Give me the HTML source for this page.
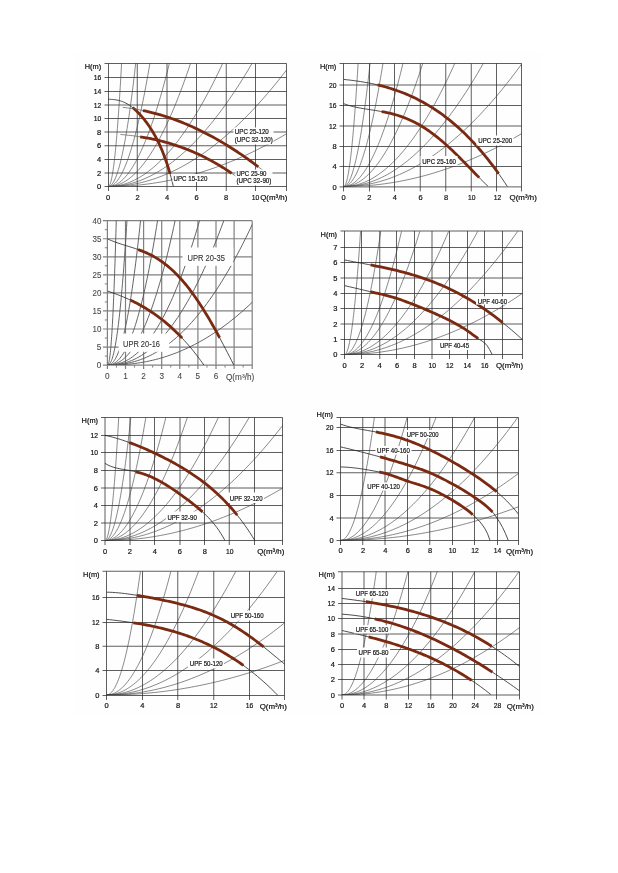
<!DOCTYPE html>
<html><head><meta charset="utf-8"><style>
html,body{margin:0;padding:0;background:#fff;}
svg{display:block;font-family:"Liberation Sans", sans-serif;will-change:transform;}
</style></head><body>
<svg width="618" height="873" viewBox="0 0 618 873">
<rect width="618" height="873" fill="#fff"/>
<rect x="75" y="52" width="466" height="663" fill="#fefefe"/>
<line x1="104.5" y1="173" x2="286.5" y2="173" stroke="#2a2a2a" stroke-width="0.75"/>
<line x1="104.5" y1="159.5" x2="286.5" y2="159.5" stroke="#2a2a2a" stroke-width="0.75"/>
<line x1="104.5" y1="145.75" x2="286.5" y2="145.75" stroke="#2a2a2a" stroke-width="0.75"/>
<line x1="104.5" y1="132" x2="286.5" y2="132" stroke="#2a2a2a" stroke-width="0.75"/>
<line x1="104.5" y1="118.5" x2="286.5" y2="118.5" stroke="#2a2a2a" stroke-width="0.75"/>
<line x1="104.5" y1="105" x2="286.5" y2="105" stroke="#2a2a2a" stroke-width="0.75"/>
<line x1="104.5" y1="91.5" x2="286.5" y2="91.5" stroke="#2a2a2a" stroke-width="0.75"/>
<line x1="104.5" y1="77.5" x2="286.5" y2="77.5" stroke="#2a2a2a" stroke-width="0.75"/>
<line x1="137.25" y1="63.5" x2="137.25" y2="191" stroke="#2a2a2a" stroke-width="0.75"/>
<line x1="167" y1="63.5" x2="167" y2="191" stroke="#2a2a2a" stroke-width="0.75"/>
<line x1="196.5" y1="63.5" x2="196.5" y2="191" stroke="#2a2a2a" stroke-width="0.75"/>
<line x1="226.25" y1="63.5" x2="226.25" y2="191" stroke="#2a2a2a" stroke-width="0.75"/>
<line x1="255.5" y1="63.5" x2="255.5" y2="191" stroke="#2a2a2a" stroke-width="0.75"/>
<line x1="104.5" y1="63.5" x2="286.5" y2="63.5" stroke="#2a2a2a" stroke-width="0.75"/>
<line x1="104.5" y1="186.5" x2="286.5" y2="186.5" stroke="#2a2a2a" stroke-width="0.75"/>
<line x1="108.5" y1="63.5" x2="108.5" y2="191" stroke="#2a2a2a" stroke-width="0.75"/>
<line x1="286.5" y1="63.5" x2="286.5" y2="191" stroke="#2a2a2a" stroke-width="0.75"/>
<clipPath id="c1"><rect x="108.2" y="63.18" width="177.94" height="123.42"/></clipPath>
<g clip-path="url(#c1)"><path d="M108.2,186.6 L108.48,186.55 L108.76,186.39 L109.04,186.12 L109.31,185.74 L109.59,185.26 L109.87,184.67 L110.15,183.98 L110.43,183.18 L110.71,182.27 L110.99,181.25 L111.26,180.13 L111.54,178.9 L111.82,177.56 L112.1,176.12 L112.38,174.57 L112.66,172.91 L112.94,171.14 L113.22,169.27 L113.49,167.29 L113.77,165.21 L114.05,163.02 L114.33,160.72 L114.61,158.31 L114.89,155.8 L115.17,153.17 L115.44,150.45 L115.72,147.61 L116,144.67 L116.28,141.62 L116.56,138.47 L116.84,135.21 L117.12,131.84 L117.39,128.36 L117.67,124.78 L117.95,121.09 L118.23,117.29 L118.51,113.39 L118.79,109.37 L119.07,105.26 L119.35,101.03 L119.62,96.7 L119.9,92.26 L120.18,87.71 L120.46,83.06 L120.74,78.3 L121.02,73.44 L121.3,68.46 L121.57,63.38 L121.85,58.19" fill="none" stroke="#3a3a3a" stroke-width="0.6"/><path d="M108.2,186.6 L108.77,186.55 L109.35,186.39 L109.92,186.12 L110.49,185.74 L111.06,185.26 L111.64,184.67 L112.21,183.98 L112.78,183.18 L113.36,182.27 L113.93,181.25 L114.5,180.13 L115.07,178.9 L115.65,177.56 L116.22,176.12 L116.79,174.57 L117.37,172.91 L117.94,171.14 L118.51,169.27 L119.08,167.29 L119.66,165.21 L120.23,163.02 L120.8,160.72 L121.38,158.31 L121.95,155.8 L122.52,153.17 L123.09,150.45 L123.67,147.61 L124.24,144.67 L124.81,141.62 L125.39,138.47 L125.96,135.21 L126.53,131.84 L127.1,128.36 L127.68,124.78 L128.25,121.09 L128.82,117.29 L129.4,113.39 L129.97,109.37 L130.54,105.26 L131.11,101.03 L131.69,96.7 L132.26,92.26 L132.83,87.71 L133.41,83.06 L133.98,78.3 L134.55,73.44 L135.12,68.46 L135.7,63.38 L136.27,58.19" fill="none" stroke="#3a3a3a" stroke-width="0.6"/><path d="M108.2,186.6 L109.07,186.55 L109.94,186.39 L110.81,186.12 L111.68,185.74 L112.54,185.26 L113.41,184.67 L114.28,183.98 L115.15,183.18 L116.02,182.27 L116.89,181.25 L117.76,180.13 L118.63,178.9 L119.5,177.56 L120.37,176.12 L121.23,174.57 L122.1,172.91 L122.97,171.14 L123.84,169.27 L124.71,167.29 L125.58,165.21 L126.45,163.02 L127.32,160.72 L128.19,158.31 L129.05,155.8 L129.92,153.17 L130.79,150.45 L131.66,147.61 L132.53,144.67 L133.4,141.62 L134.27,138.47 L135.14,135.21 L136.01,131.84 L136.88,128.36 L137.74,124.78 L138.61,121.09 L139.48,117.29 L140.35,113.39 L141.22,109.37 L142.09,105.26 L142.96,101.03 L143.83,96.7 L144.7,92.26 L145.56,87.71 L146.43,83.06 L147.3,78.3 L148.17,73.44 L149.04,68.46 L149.91,63.38 L150.78,58.19" fill="none" stroke="#3a3a3a" stroke-width="0.6"/><path d="M108.2,186.6 L109.47,186.55 L110.75,186.39 L112.02,186.12 L113.3,185.74 L114.57,185.26 L115.85,184.67 L117.12,183.98 L118.4,183.18 L119.67,182.27 L120.95,181.25 L122.22,180.13 L123.5,178.9 L124.77,177.56 L126.05,176.12 L127.32,174.57 L128.6,172.91 L129.87,171.14 L131.15,169.27 L132.42,167.29 L133.7,165.21 L134.97,163.02 L136.25,160.72 L137.52,158.31 L138.8,155.8 L140.07,153.17 L141.35,150.45 L142.62,147.61 L143.9,144.67 L145.17,141.62 L146.44,138.47 L147.72,135.21 L148.99,131.84 L150.27,128.36 L151.54,124.78 L152.82,121.09 L154.09,117.29 L155.37,113.39 L156.64,109.37 L157.92,105.26 L159.19,101.03 L160.47,96.7 L161.74,92.26 L163.02,87.71 L164.29,83.06 L165.57,78.3 L166.84,73.44 L168.12,68.46 L169.39,63.38 L170.67,58.19" fill="none" stroke="#3a3a3a" stroke-width="0.6"/><path d="M108.2,186.6 L109.92,186.55 L111.63,186.39 L113.35,186.12 L115.06,185.74 L116.78,185.26 L118.49,184.67 L120.21,183.98 L121.92,183.18 L123.64,182.27 L125.35,181.25 L127.07,180.13 L128.78,178.9 L130.5,177.56 L132.21,176.12 L133.93,174.57 L135.64,172.91 L137.36,171.14 L139.07,169.27 L140.79,167.29 L142.51,165.21 L144.22,163.02 L145.94,160.72 L147.65,158.31 L149.37,155.8 L151.08,153.17 L152.8,150.45 L154.51,147.61 L156.23,144.67 L157.94,141.62 L159.66,138.47 L161.37,135.21 L163.09,131.84 L164.8,128.36 L166.52,124.78 L168.23,121.09 L169.95,117.29 L171.66,113.39 L173.38,109.37 L175.1,105.26 L176.81,101.03 L178.53,96.7 L180.24,92.26 L181.96,87.71 L183.67,83.06 L185.39,78.3 L187.1,73.44 L188.82,68.46 L190.53,63.38 L192.25,58.19" fill="none" stroke="#3a3a3a" stroke-width="0.6"/><path d="M108.2,186.6 L110.58,186.55 L112.97,186.39 L115.35,186.12 L117.74,185.74 L120.12,185.26 L122.51,184.67 L124.89,183.98 L127.28,183.18 L129.66,182.27 L132.05,181.25 L134.43,180.13 L136.82,178.9 L139.2,177.56 L141.59,176.12 L143.97,174.57 L146.36,172.91 L148.74,171.14 L151.13,169.27 L153.51,167.29 L155.9,165.21 L158.28,163.02 L160.67,160.72 L163.05,158.31 L165.44,155.8 L167.82,153.17 L170.21,150.45 L172.59,147.61 L174.98,144.67 L177.36,141.62 L179.75,138.47 L182.13,135.21 L184.52,131.84 L186.9,128.36 L189.29,124.78 L191.67,121.09 L194.06,117.29 L196.44,113.39 L198.83,109.37 L201.21,105.26 L203.6,101.03 L205.98,96.7 L208.37,92.26 L210.75,87.71 L213.14,83.06 L215.52,78.3 L217.91,73.44 L220.29,68.46 L222.68,63.38 L225.06,58.19" fill="none" stroke="#3a3a3a" stroke-width="0.6"/><path d="M108.2,186.6 L111.2,186.55 L114.19,186.39 L117.19,186.12 L120.19,185.74 L123.18,185.26 L126.18,184.67 L129.18,183.98 L132.17,183.18 L135.17,182.27 L138.17,181.25 L141.17,180.13 L144.16,178.9 L147.16,177.56 L150.16,176.12 L153.15,174.57 L156.15,172.91 L159.15,171.14 L162.14,169.27 L165.14,167.29 L168.14,165.21 L171.13,163.02 L174.13,160.72 L177.13,158.31 L180.12,155.8 L183.12,153.17 L186.12,150.45 L189.12,147.61 L192.11,144.67 L195.11,141.62 L198.11,138.47 L201.1,135.21 L204.1,131.84 L207.1,128.36 L210.09,124.78 L213.09,121.09 L216.09,117.29 L219.08,113.39 L222.08,109.37 L225.08,105.26 L228.07,101.03 L231.07,96.7 L234.07,92.26 L237.07,87.71 L240.06,83.06 L243.06,78.3 L246.06,73.44 L249.05,68.46 L252.05,63.38 L255.05,58.19" fill="none" stroke="#3a3a3a" stroke-width="0.6"/><path d="M108.2,186.6 L111.9,186.55 L115.61,186.4 L119.31,186.15 L123.02,185.8 L126.72,185.34 L130.42,184.79 L134.13,184.13 L137.83,183.38 L141.54,182.53 L145.24,181.57 L148.94,180.51 L152.65,179.36 L156.35,178.1 L160.06,176.74 L163.76,175.28 L167.46,173.72 L171.17,172.06 L174.87,170.3 L178.58,168.44 L182.28,166.48 L185.98,164.41 L189.69,162.25 L193.39,159.99 L197.1,157.62 L200.8,155.16 L204.5,152.59 L208.21,149.93 L211.91,147.16 L215.62,144.29 L219.32,141.32 L223.02,138.25 L226.73,135.08 L230.43,131.81 L234.14,128.44 L237.84,124.97 L241.54,121.4 L245.25,117.73 L248.95,113.96 L252.66,110.08 L256.36,106.11 L260.06,102.03 L263.77,97.86 L267.47,93.58 L271.18,89.2 L274.88,84.73 L278.59,80.15 L282.29,75.47 L285.99,70.69 L289.7,65.81" fill="none" stroke="#3a3a3a" stroke-width="0.6"/><path d="M108.2,186.6 L111.9,186.58 L115.61,186.51 L119.31,186.39 L123.02,186.24 L126.72,186.03 L130.42,185.78 L134.13,185.48 L137.83,185.14 L141.54,184.75 L145.24,184.32 L148.94,183.84 L152.65,183.32 L156.35,182.75 L160.06,182.13 L163.76,181.47 L167.46,180.77 L171.17,180.01 L174.87,179.22 L178.58,178.37 L182.28,177.48 L185.98,176.55 L189.69,175.57 L193.39,174.54 L197.1,173.47 L200.8,172.36 L204.5,171.19 L208.21,169.99 L211.91,168.73 L215.62,167.43 L219.32,166.09 L223.02,164.7 L226.73,163.26 L230.43,161.78 L234.14,160.26 L237.84,158.68 L241.54,157.07 L245.25,155.4 L248.95,153.69 L252.66,151.94 L256.36,150.14 L260.06,148.29 L263.77,146.4 L267.47,144.46 L271.18,142.48 L274.88,140.45 L278.59,138.38 L282.29,136.26 L285.99,134.09 L289.7,131.88" fill="none" stroke="#3a3a3a" stroke-width="0.6"/></g>
<g clip-path="url(#c1)"><path d="M108.2,99.2 L109.3,99.26 L110.41,99.31 L111.51,99.38 L112.61,99.46 L113.72,99.57 L114.82,99.7 L115.92,99.86 L117.03,100.06 L118.13,100.29 L119.24,100.56 L120.34,100.88 L121.44,101.24 L122.55,101.65 L123.65,102.1 L124.75,102.6 L125.86,103.15 L126.96,103.75 L128.06,104.39 L129.17,105.09 L130.27,105.84 L131.37,106.64 L132.48,107.48 L133.58,108.38 L134.68,109.32 L135.79,110.31 L136.89,111.35 L137.99,112.44 L139.1,113.57 L140.2,114.75 L141.31,115.98 L142.41,117.26 L143.51,118.59 L144.62,119.97 L145.72,121.4 L146.82,122.88 L147.93,124.42 L149.03,126.01 L150.13,127.66 L151.24,129.38 L152.34,131.16 L153.44,133 L154.55,134.93 L155.65,136.93 L156.75,139.01 L157.86,141.19 L158.96,143.46 L160.06,145.84 L161.17,148.33 L162.27,150.95 L163.38,153.69 L164.48,156.58 L165.58,159.62 L166.69,162.82 L167.79,166.21 L168.89,169.78 L170,173.57 L171.1,177.57 L172.2,181.82 L173.31,186.32" fill="none" stroke="#222" stroke-width="0.8"/><path d="M132.5,107.5 L133.14,108.01 L133.78,108.54 L134.41,109.08 L135.05,109.64 L135.69,110.22 L136.32,110.81 L136.96,111.42 L137.6,112.04 L138.23,112.68 L138.87,113.33 L139.51,114 L140.14,114.69 L140.78,115.39 L141.42,116.11 L142.05,116.85 L142.69,117.6 L143.33,118.37 L143.96,119.15 L144.6,119.95 L145.24,120.77 L145.87,121.6 L146.51,122.46 L147.15,123.33 L147.78,124.22 L148.42,125.12 L149.06,126.05 L149.69,127 L150.33,127.96 L150.97,128.95 L151.6,129.96 L152.24,130.99 L152.88,132.05 L153.51,133.12 L154.15,134.23 L154.79,135.35 L155.42,136.51 L156.06,137.69 L156.7,138.9 L157.33,140.14 L157.97,141.42 L158.61,142.72 L159.24,144.06 L159.88,145.44 L160.52,146.85 L161.15,148.3 L161.79,149.79 L162.43,151.32 L163.06,152.9 L163.7,154.53 L164.34,156.2 L164.97,157.92 L165.61,159.7 L166.25,161.53 L166.88,163.41 L167.52,165.36 L168.16,167.37 L168.79,169.45 L169.43,171.6 L170.07,173.81" fill="none" stroke="#7b2a12" stroke-width="2.8" stroke-linecap="butt"/><path d="M122.78,107.34 L125.18,107.61 L127.58,107.91 L129.98,108.24 L132.38,108.59 L134.78,108.98 L137.18,109.39 L139.58,109.83 L141.98,110.31 L144.38,110.81 L146.78,111.34 L149.17,111.9 L151.57,112.48 L153.97,113.1 L156.37,113.74 L158.77,114.42 L161.17,115.12 L163.57,115.85 L165.97,116.61 L168.37,117.39 L170.77,118.21 L173.17,119.05 L175.57,119.92 L177.97,120.82 L180.36,121.75 L182.76,122.71 L185.16,123.69 L187.56,124.7 L189.96,125.74 L192.36,126.81 L194.76,127.9 L197.16,129.02 L199.56,130.17 L201.96,131.35 L204.36,132.56 L206.76,133.79 L209.16,135.05 L211.55,136.33 L213.95,137.65 L216.35,138.99 L218.75,140.36 L221.15,141.76 L223.55,143.18 L225.95,144.63 L228.35,146.1 L230.75,147.61 L233.15,149.14 L235.55,150.7 L237.95,152.28 L240.35,153.89 L242.74,155.53 L245.14,157.19 L247.54,158.88 L249.94,160.6 L252.34,162.34 L254.74,164.11 L257.14,165.91 L259.54,167.73 L261.94,169.58 L264.34,171.45" fill="none" stroke="#666" stroke-width="0.8"/><path d="M142.96,110.51 L144.92,110.93 L146.87,111.36 L148.83,111.81 L150.78,112.29 L152.74,112.78 L154.69,113.29 L156.65,113.82 L158.6,114.37 L160.56,114.94 L162.51,115.52 L164.47,116.13 L166.42,116.75 L168.38,117.4 L170.33,118.06 L172.29,118.74 L174.24,119.44 L176.2,120.16 L178.15,120.89 L180.1,121.65 L182.06,122.42 L184.01,123.22 L185.97,124.03 L187.92,124.86 L189.88,125.7 L191.83,126.57 L193.79,127.46 L195.74,128.36 L197.7,129.28 L199.65,130.22 L201.61,131.18 L203.56,132.15 L205.52,133.15 L207.47,134.16 L209.43,135.19 L211.38,136.24 L213.34,137.31 L215.29,138.39 L217.25,139.5 L219.2,140.62 L221.16,141.76 L223.11,142.92 L225.07,144.09 L227.02,145.28 L228.98,146.49 L230.93,147.72 L232.89,148.97 L234.84,150.23 L236.8,151.52 L238.75,152.82 L240.71,154.13 L242.66,155.47 L244.61,156.82 L246.57,158.19 L248.52,159.58 L250.48,160.99 L252.43,162.41 L254.39,163.85 L256.34,165.31 L258.3,166.78" fill="none" stroke="#7b2a12" stroke-width="2.8" stroke-linecap="butt"/><path d="M120.43,134.47 L122.39,134.63 L124.36,134.81 L126.32,135 L128.29,135.21 L130.25,135.43 L132.21,135.66 L134.18,135.92 L136.14,136.18 L138.11,136.47 L140.07,136.77 L142.04,137.08 L144,137.42 L145.97,137.77 L147.93,138.13 L149.9,138.52 L151.86,138.92 L153.83,139.34 L155.79,139.78 L157.76,140.24 L159.72,140.71 L161.69,141.21 L163.65,141.72 L165.62,142.26 L167.58,142.81 L169.55,143.38 L171.51,143.98 L173.48,144.59 L175.44,145.23 L177.41,145.88 L179.37,146.56 L181.34,147.26 L183.3,147.98 L185.27,148.72 L187.23,149.49 L189.2,150.28 L191.16,151.09 L193.12,151.92 L195.09,152.78 L197.05,153.66 L199.02,154.56 L200.98,155.49 L202.95,156.44 L204.91,157.42 L206.88,158.42 L208.84,159.45 L210.81,160.5 L212.77,161.58 L214.74,162.69 L216.7,163.82 L218.67,164.97 L220.63,166.16 L222.6,167.37 L224.56,168.61 L226.53,169.87 L228.49,171.16 L230.46,172.48 L232.42,173.83 L234.39,175.21 L236.35,176.61" fill="none" stroke="#666" stroke-width="0.8"/><path d="M140.16,136.78 L141.71,137.03 L143.26,137.29 L144.82,137.56 L146.37,137.84 L147.92,138.13 L149.47,138.43 L151.02,138.74 L152.57,139.07 L154.12,139.4 L155.67,139.75 L157.22,140.11 L158.77,140.48 L160.32,140.86 L161.87,141.25 L163.42,141.66 L164.97,142.08 L166.52,142.51 L168.07,142.95 L169.62,143.4 L171.17,143.87 L172.72,144.35 L174.27,144.85 L175.82,145.35 L177.37,145.87 L178.92,146.4 L180.47,146.95 L182.02,147.51 L183.58,148.08 L185.13,148.67 L186.68,149.27 L188.23,149.88 L189.78,150.51 L191.33,151.16 L192.88,151.81 L194.43,152.49 L195.98,153.17 L197.53,153.87 L199.08,154.59 L200.63,155.32 L202.18,156.07 L203.73,156.83 L205.28,157.61 L206.83,158.4 L208.38,159.21 L209.93,160.03 L211.48,160.87 L213.03,161.73 L214.58,162.6 L216.13,163.49 L217.68,164.39 L219.23,165.31 L220.78,166.25 L222.34,167.2 L223.89,168.18 L225.44,169.16 L226.99,170.17 L228.54,171.19 L230.09,172.23 L231.64,173.29" fill="none" stroke="#7b2a12" stroke-width="2.8" stroke-linecap="butt"/></g>
<rect x="233.5" y="127.5" width="40" height="17" fill="#fff"/>
<text x="234.8" y="134.3" font-size="7.2" textLength="34" lengthAdjust="spacingAndGlyphs" fill="#111" stroke="#111" stroke-width="0.2">UPC 25-120</text>
<text x="234.8" y="142.0" font-size="7.2" textLength="38" lengthAdjust="spacingAndGlyphs" fill="#111" stroke="#111" stroke-width="0.2">(UPC 32-120)</text>
<rect x="235.5" y="169.5" width="37" height="16" fill="#fff"/>
<text x="236.4" y="176.1" font-size="7.2" textLength="30" lengthAdjust="spacingAndGlyphs" fill="#111" stroke="#111" stroke-width="0.2">UPC 25-90</text>
<text x="236.4" y="183.2" font-size="7.2" textLength="35" lengthAdjust="spacingAndGlyphs" fill="#111" stroke="#111" stroke-width="0.2">(UPC 32-90)</text>
<rect x="172.5" y="174" width="36" height="8" fill="#fff"/>
<text x="173.6" y="180.6" font-size="7.2" textLength="33.7" lengthAdjust="spacingAndGlyphs" fill="#111" stroke="#111" stroke-width="0.2">UPC 15-120</text>
<text x="101.2" y="189.16" font-size="7.5" text-anchor="end" fill="#111" stroke="#111" stroke-width="0.2">0</text>
<text x="101.2" y="175.66" font-size="7.5" text-anchor="end" fill="#111" stroke="#111" stroke-width="0.2">2</text>
<text x="101.2" y="162.16" font-size="7.5" text-anchor="end" fill="#111" stroke="#111" stroke-width="0.2">4</text>
<text x="101.2" y="148.41" font-size="7.5" text-anchor="end" fill="#111" stroke="#111" stroke-width="0.2">6</text>
<text x="101.2" y="134.66" font-size="7.5" text-anchor="end" fill="#111" stroke="#111" stroke-width="0.2">8</text>
<text x="101.2" y="121.16" font-size="7.5" textLength="7.51" lengthAdjust="spacingAndGlyphs" text-anchor="end" fill="#111" stroke="#111" stroke-width="0.2">10</text>
<text x="101.2" y="107.66" font-size="7.5" textLength="7.51" lengthAdjust="spacingAndGlyphs" text-anchor="end" fill="#111" stroke="#111" stroke-width="0.2">12</text>
<text x="101.2" y="94.16" font-size="7.5" textLength="7.51" lengthAdjust="spacingAndGlyphs" text-anchor="end" fill="#111" stroke="#111" stroke-width="0.2">14</text>
<text x="101.2" y="80.16" font-size="7.5" textLength="7.51" lengthAdjust="spacingAndGlyphs" text-anchor="end" fill="#111" stroke="#111" stroke-width="0.2">16</text>
<text x="108.2" y="199.6" font-size="7.5" text-anchor="middle" fill="#111" stroke="#111" stroke-width="0.2">0</text>
<text x="137.66" y="199.6" font-size="7.5" text-anchor="middle" fill="#111" stroke="#111" stroke-width="0.2">2</text>
<text x="167.12" y="199.6" font-size="7.5" text-anchor="middle" fill="#111" stroke="#111" stroke-width="0.2">4</text>
<text x="196.58" y="199.6" font-size="7.5" text-anchor="middle" fill="#111" stroke="#111" stroke-width="0.2">6</text>
<text x="226.04" y="199.6" font-size="7.5" text-anchor="middle" fill="#111" stroke="#111" stroke-width="0.2">8</text>
<text x="255.5" y="199.6" font-size="7.5" textLength="7.51" lengthAdjust="spacingAndGlyphs" text-anchor="middle" fill="#111" stroke="#111" stroke-width="0.2">10</text>
<text x="101.2" y="68.8" font-size="7.4" text-anchor="end" fill="#111" stroke="#111" stroke-width="0.2">H(m)</text>
<text x="260.2" y="199.6" font-size="7.9" fill="#111" stroke="#111" stroke-width="0.2">Q(m³/h)</text>
<line x1="339.5" y1="166.5" x2="521.5" y2="166.5" stroke="#2a2a2a" stroke-width="0.75"/>
<line x1="339.5" y1="146.5" x2="521.5" y2="146.5" stroke="#2a2a2a" stroke-width="0.75"/>
<line x1="339.5" y1="126" x2="521.5" y2="126" stroke="#2a2a2a" stroke-width="0.75"/>
<line x1="339.5" y1="105.5" x2="521.5" y2="105.5" stroke="#2a2a2a" stroke-width="0.75"/>
<line x1="339.5" y1="85" x2="521.5" y2="85" stroke="#2a2a2a" stroke-width="0.75"/>
<line x1="369.5" y1="63.5" x2="369.5" y2="191.4" stroke="#2a2a2a" stroke-width="0.75"/>
<line x1="394.5" y1="63.5" x2="394.5" y2="191.4" stroke="#2a2a2a" stroke-width="0.75"/>
<line x1="420.25" y1="63.5" x2="420.25" y2="191.4" stroke="#2a2a2a" stroke-width="0.75"/>
<line x1="445.75" y1="63.5" x2="445.75" y2="191.4" stroke="#2a2a2a" stroke-width="0.75"/>
<line x1="471.25" y1="63.5" x2="471.25" y2="191.4" stroke="#2a2a2a" stroke-width="0.75"/>
<line x1="496.5" y1="63.5" x2="496.5" y2="191.4" stroke="#2a2a2a" stroke-width="0.75"/>
<line x1="339.5" y1="63.5" x2="521.5" y2="63.5" stroke="#2a2a2a" stroke-width="0.75"/>
<line x1="339.5" y1="186.9" x2="521.5" y2="186.9" stroke="#2a2a2a" stroke-width="0.75"/>
<line x1="343.5" y1="63.5" x2="343.5" y2="191.4" stroke="#2a2a2a" stroke-width="0.75"/>
<line x1="521.5" y1="63.5" x2="521.5" y2="191.4" stroke="#2a2a2a" stroke-width="0.75"/>
<clipPath id="c2"><rect x="343.6" y="63.29" width="178.2" height="123.31"/></clipPath>
<g clip-path="url(#c2)"><path d="M343.6,186.6 L343.9,186.55 L344.2,186.39 L344.51,186.12 L344.81,185.75 L345.11,185.26 L345.41,184.68 L345.71,183.98 L346.02,183.18 L346.32,182.27 L346.62,181.26 L346.92,180.13 L347.22,178.91 L347.52,177.57 L347.83,176.13 L348.13,174.58 L348.43,172.92 L348.73,171.16 L349.03,169.29 L349.34,167.31 L349.64,165.23 L349.94,163.04 L350.24,160.74 L350.54,158.33 L350.85,155.82 L351.15,153.2 L351.45,150.48 L351.75,147.65 L352.05,144.71 L352.35,141.66 L352.66,138.51 L352.96,135.25 L353.26,131.88 L353.56,128.41 L353.86,124.83 L354.17,121.14 L354.47,117.35 L354.77,113.45 L355.07,109.44 L355.37,105.33 L355.68,101.11 L355.98,96.78 L356.28,92.34 L356.58,87.8 L356.88,83.15 L357.18,78.4 L357.49,73.54 L357.79,68.57 L358.09,63.49 L358.39,58.31" fill="none" stroke="#3a3a3a" stroke-width="0.6"/><path d="M343.6,186.6 L344.15,186.55 L344.7,186.39 L345.25,186.12 L345.8,185.75 L346.35,185.26 L346.9,184.68 L347.45,183.98 L348,183.18 L348.55,182.27 L349.1,181.26 L349.65,180.13 L350.21,178.91 L350.76,177.57 L351.31,176.13 L351.86,174.58 L352.41,172.92 L352.96,171.16 L353.51,169.29 L354.06,167.31 L354.61,165.23 L355.16,163.04 L355.71,160.74 L356.26,158.33 L356.81,155.82 L357.36,153.2 L357.91,150.48 L358.46,147.65 L359.01,144.71 L359.56,141.66 L360.11,138.51 L360.66,135.25 L361.21,131.88 L361.76,128.41 L362.31,124.83 L362.87,121.14 L363.42,117.35 L363.97,113.45 L364.52,109.44 L365.07,105.33 L365.62,101.11 L366.17,96.78 L366.72,92.34 L367.27,87.8 L367.82,83.15 L368.37,78.4 L368.92,73.54 L369.47,68.57 L370.02,63.49 L370.57,58.31" fill="none" stroke="#3a3a3a" stroke-width="0.6"/><path d="M343.6,186.6 L344.42,186.55 L345.24,186.39 L346.06,186.12 L346.88,185.75 L347.7,185.26 L348.52,184.68 L349.34,183.98 L350.16,183.18 L350.98,182.27 L351.8,181.26 L352.62,180.13 L353.44,178.91 L354.26,177.57 L355.08,176.13 L355.9,174.58 L356.72,172.92 L357.54,171.16 L358.36,169.29 L359.18,167.31 L360,165.23 L360.81,163.04 L361.63,160.74 L362.45,158.33 L363.27,155.82 L364.09,153.2 L364.91,150.48 L365.73,147.65 L366.55,144.71 L367.37,141.66 L368.19,138.51 L369.01,135.25 L369.83,131.88 L370.65,128.41 L371.47,124.83 L372.29,121.14 L373.11,117.35 L373.93,113.45 L374.75,109.44 L375.57,105.33 L376.39,101.11 L377.21,96.78 L378.03,92.34 L378.85,87.8 L379.67,83.15 L380.49,78.4 L381.31,73.54 L382.13,68.57 L382.95,63.49 L383.77,58.31" fill="none" stroke="#3a3a3a" stroke-width="0.6"/><path d="M343.6,186.6 L344.84,186.55 L346.07,186.39 L347.31,186.12 L348.55,185.75 L349.78,185.26 L351.02,184.68 L352.25,183.98 L353.49,183.18 L354.73,182.27 L355.96,181.26 L357.2,180.13 L358.44,178.91 L359.67,177.57 L360.91,176.13 L362.14,174.58 L363.38,172.92 L364.62,171.16 L365.85,169.29 L367.09,167.31 L368.33,165.23 L369.56,163.04 L370.8,160.74 L372.03,158.33 L373.27,155.82 L374.51,153.2 L375.74,150.48 L376.98,147.65 L378.22,144.71 L379.45,141.66 L380.69,138.51 L381.92,135.25 L383.16,131.88 L384.4,128.41 L385.63,124.83 L386.87,121.14 L388.11,117.35 L389.34,113.45 L390.58,109.44 L391.81,105.33 L393.05,101.11 L394.29,96.78 L395.52,92.34 L396.76,87.8 L398,83.15 L399.23,78.4 L400.47,73.54 L401.7,68.57 L402.94,63.49 L404.18,58.31" fill="none" stroke="#3a3a3a" stroke-width="0.6"/><path d="M343.6,186.6 L345.25,186.55 L346.9,186.39 L348.55,186.12 L350.2,185.75 L351.85,185.26 L353.49,184.68 L355.14,183.98 L356.79,183.18 L358.44,182.27 L360.09,181.26 L361.74,180.13 L363.39,178.91 L365.04,177.57 L366.69,176.13 L368.34,174.58 L369.99,172.92 L371.64,171.16 L373.28,169.29 L374.93,167.31 L376.58,165.23 L378.23,163.04 L379.88,160.74 L381.53,158.33 L383.18,155.82 L384.83,153.2 L386.48,150.48 L388.13,147.65 L389.78,144.71 L391.43,141.66 L393.07,138.51 L394.72,135.25 L396.37,131.88 L398.02,128.41 L399.67,124.83 L401.32,121.14 L402.97,117.35 L404.62,113.45 L406.27,109.44 L407.92,105.33 L409.57,101.11 L411.22,96.78 L412.86,92.34 L414.51,87.8 L416.16,83.15 L417.81,78.4 L419.46,73.54 L421.11,68.57 L422.76,63.49 L424.41,58.31" fill="none" stroke="#3a3a3a" stroke-width="0.6"/><path d="M343.6,186.6 L345.92,186.55 L348.23,186.39 L350.55,186.12 L352.86,185.75 L355.18,185.26 L357.5,184.68 L359.81,183.98 L362.13,183.18 L364.44,182.27 L366.76,181.26 L369.07,180.13 L371.39,178.91 L373.71,177.57 L376.02,176.13 L378.34,174.58 L380.65,172.92 L382.97,171.16 L385.29,169.29 L387.6,167.31 L389.92,165.23 L392.23,163.04 L394.55,160.74 L396.87,158.33 L399.18,155.82 L401.5,153.2 L403.81,150.48 L406.13,147.65 L408.45,144.71 L410.76,141.66 L413.08,138.51 L415.39,135.25 L417.71,131.88 L420.02,128.41 L422.34,124.83 L424.66,121.14 L426.97,117.35 L429.29,113.45 L431.6,109.44 L433.92,105.33 L436.24,101.11 L438.55,96.78 L440.87,92.34 L443.18,87.8 L445.5,83.15 L447.82,78.4 L450.13,73.54 L452.45,68.57 L454.76,63.49 L457.08,58.31" fill="none" stroke="#3a3a3a" stroke-width="0.6"/><path d="M343.6,186.6 L346.51,186.55 L349.42,186.39 L352.33,186.12 L355.24,185.75 L358.15,185.26 L361.06,184.68 L363.97,183.98 L366.88,183.18 L369.79,182.27 L372.7,181.26 L375.61,180.13 L378.52,178.91 L381.42,177.57 L384.33,176.13 L387.24,174.58 L390.15,172.92 L393.06,171.16 L395.97,169.29 L398.88,167.31 L401.79,165.23 L404.7,163.04 L407.61,160.74 L410.52,158.33 L413.43,155.82 L416.34,153.2 L419.25,150.48 L422.16,147.65 L425.07,144.71 L427.98,141.66 L430.89,138.51 L433.8,135.25 L436.71,131.88 L439.62,128.41 L442.53,124.83 L445.44,121.14 L448.35,117.35 L451.26,113.45 L454.16,109.44 L457.07,105.33 L459.98,101.11 L462.89,96.78 L465.8,92.34 L468.71,87.8 L471.62,83.15 L474.53,78.4 L477.44,73.54 L480.35,68.57 L483.26,63.49 L486.17,58.31" fill="none" stroke="#3a3a3a" stroke-width="0.6"/><path d="M343.6,186.6 L347.31,186.55 L351.02,186.39 L354.73,186.12 L358.44,185.75 L362.15,185.27 L365.86,184.68 L369.57,183.99 L373.28,183.19 L376.98,182.29 L380.69,181.28 L384.4,180.16 L388.11,178.94 L391.82,177.61 L395.53,176.17 L399.24,174.63 L402.95,172.98 L406.66,171.22 L410.37,169.36 L414.08,167.39 L417.79,165.31 L421.5,163.13 L425.21,160.84 L428.92,158.45 L432.63,155.95 L436.34,153.34 L440.05,150.63 L443.75,147.81 L447.46,144.88 L451.17,141.85 L454.88,138.71 L458.59,135.46 L462.3,132.11 L466.01,128.65 L469.72,125.08 L473.43,121.41 L477.14,117.63 L480.85,113.75 L484.56,109.76 L488.27,105.66 L491.98,101.46 L495.69,97.14 L499.4,92.73 L503.11,88.2 L506.81,83.57 L510.52,78.84 L514.23,74 L517.94,69.05 L521.65,63.99 L525.36,58.83" fill="none" stroke="#3a3a3a" stroke-width="0.6"/><path d="M343.6,186.6 L347.31,186.58 L351.02,186.51 L354.73,186.39 L358.44,186.23 L362.15,186.03 L365.86,185.77 L369.57,185.47 L373.28,185.13 L376.98,184.74 L380.69,184.3 L384.4,183.82 L388.11,183.29 L391.82,182.71 L395.53,182.09 L399.24,181.43 L402.95,180.71 L406.66,179.96 L410.37,179.15 L414.08,178.3 L417.79,177.4 L421.5,176.46 L425.21,175.47 L428.92,174.44 L432.63,173.36 L436.34,172.23 L440.05,171.06 L443.75,169.84 L447.46,168.58 L451.17,167.27 L454.88,165.91 L458.59,164.51 L462.3,163.06 L466.01,161.56 L469.72,160.02 L473.43,158.44 L477.14,156.81 L480.85,155.13 L484.56,153.4 L488.27,151.63 L491.98,149.82 L495.69,147.96 L499.4,146.05 L503.11,144.09 L506.81,142.09 L510.52,140.05 L514.23,137.96 L517.94,135.82 L521.65,133.63 L525.36,131.4" fill="none" stroke="#3a3a3a" stroke-width="0.6"/></g>
<g clip-path="url(#c2)"><path d="M343.6,79.43 L346.38,79.71 L349.16,80.03 L351.94,80.36 L354.72,80.72 L357.5,81.11 L360.27,81.53 L363.05,81.98 L365.83,82.46 L368.61,82.98 L371.39,83.53 L374.17,84.12 L376.95,84.75 L379.73,85.42 L382.51,86.13 L385.29,86.89 L388.07,87.69 L390.84,88.53 L393.62,89.43 L396.4,90.37 L399.18,91.37 L401.96,92.42 L404.74,93.52 L407.52,94.68 L410.3,95.89 L413.08,97.17 L415.86,98.51 L418.64,99.9 L421.42,101.37 L424.19,102.89 L426.97,104.49 L429.75,106.15 L432.53,107.88 L435.31,109.69 L438.09,111.57 L440.87,113.52 L443.65,115.55 L446.43,117.65 L449.21,119.84 L451.99,122.1 L454.76,124.45 L457.54,126.89 L460.32,129.4 L463.1,132.01 L465.88,134.7 L468.66,137.49 L471.44,140.36 L474.22,143.33 L477,146.4 L479.78,149.56 L482.56,152.82 L485.33,156.17 L488.11,159.63 L490.89,163.2 L493.67,166.86 L496.45,170.63 L499.23,174.51 L502.01,178.5 L504.79,182.6 L507.57,186.81" fill="none" stroke="#222" stroke-width="0.8"/><path d="M377.57,84.9 L379.62,85.39 L381.68,85.91 L383.73,86.46 L385.78,87.02 L387.83,87.62 L389.88,88.23 L391.93,88.88 L393.98,89.55 L396.03,90.24 L398.09,90.97 L400.14,91.72 L402.19,92.5 L404.24,93.32 L406.29,94.16 L408.34,95.03 L410.39,95.94 L412.44,96.87 L414.49,97.84 L416.55,98.85 L418.6,99.88 L420.65,100.96 L422.7,102.06 L424.75,103.21 L426.8,104.39 L428.85,105.61 L430.9,106.86 L432.96,108.15 L435.01,109.49 L437.06,110.86 L439.11,112.27 L441.16,113.73 L443.21,115.22 L445.26,116.76 L447.31,118.34 L449.37,119.96 L451.42,121.63 L453.47,123.35 L455.52,125.1 L457.57,126.91 L459.62,128.76 L461.67,130.66 L463.72,132.6 L465.77,134.6 L467.83,136.64 L469.88,138.73 L471.93,140.88 L473.98,143.07 L476.03,145.32 L478.08,147.62 L480.13,149.97 L482.18,152.37 L484.24,154.83 L486.29,157.35 L488.34,159.92 L490.39,162.54 L492.44,165.22 L494.49,167.96 L496.54,170.76 L498.59,173.62" fill="none" stroke="#7b2a12" stroke-width="2.8" stroke-linecap="butt"/><path d="M343.6,103.63 L346.05,104.52 L348.5,105.3 L350.95,106 L353.4,106.62 L355.84,107.18 L358.29,107.69 L360.74,108.15 L363.19,108.58 L365.64,108.98 L368.09,109.36 L370.54,109.73 L372.99,110.11 L375.43,110.49 L377.88,110.88 L380.33,111.3 L382.78,111.74 L385.23,112.22 L387.68,112.73 L390.13,113.29 L392.58,113.91 L395.03,114.57 L397.47,115.29 L399.92,116.08 L402.37,116.93 L404.82,117.84 L407.27,118.83 L409.72,119.9 L412.17,121.04 L414.62,122.25 L417.07,123.54 L419.51,124.92 L421.96,126.37 L424.41,127.9 L426.86,129.5 L429.31,131.19 L431.76,132.95 L434.21,134.79 L436.66,136.7 L439.1,138.69 L441.55,140.74 L444,142.85 L446.45,145.03 L448.9,147.27 L451.35,149.56 L453.8,151.89 L456.25,154.28 L458.7,156.7 L461.14,159.15 L463.59,161.64 L466.04,164.14 L468.49,166.66 L470.94,169.18 L473.39,171.7 L475.84,174.21 L478.29,176.71 L480.73,179.18 L483.18,181.61 L485.63,184 L488.08,186.33" fill="none" stroke="#222" stroke-width="0.8"/><path d="M381.68,111.54 L383.33,111.84 L384.98,112.17 L386.63,112.51 L388.28,112.87 L389.93,113.25 L391.58,113.65 L393.24,114.08 L394.89,114.53 L396.54,115.01 L398.19,115.51 L399.84,116.05 L401.49,116.61 L403.14,117.21 L404.79,117.83 L406.45,118.49 L408.1,119.19 L409.75,119.91 L411.4,120.67 L413.05,121.47 L414.7,122.3 L416.35,123.16 L418.01,124.06 L419.66,125 L421.31,125.97 L422.96,126.98 L424.61,128.02 L426.26,129.1 L427.91,130.22 L429.57,131.37 L431.22,132.56 L432.87,133.78 L434.52,135.03 L436.17,136.32 L437.82,137.64 L439.47,138.99 L441.13,140.37 L442.78,141.79 L444.43,143.23 L446.08,144.7 L447.73,146.19 L449.38,147.71 L451.03,149.26 L452.69,150.83 L454.34,152.41 L455.99,154.02 L457.64,155.65 L459.29,157.29 L460.94,158.95 L462.59,160.62 L464.24,162.3 L465.9,163.99 L467.55,165.69 L469.2,167.39 L470.85,169.09 L472.5,170.79 L474.15,172.49 L475.8,174.18 L477.46,175.87 L479.11,177.54" fill="none" stroke="#7b2a12" stroke-width="2.8" stroke-linecap="butt"/></g>
<rect x="476.5" y="135.5" width="37" height="10" fill="#fff"/>
<text x="478.3" y="143.3" font-size="7.2" textLength="33.8" lengthAdjust="spacingAndGlyphs" fill="#111" stroke="#111" stroke-width="0.2">UPC 25-200</text>
<rect x="420.5" y="156" width="37" height="10" fill="#fff"/>
<text x="422.2" y="163.7" font-size="7.2" textLength="33.8" lengthAdjust="spacingAndGlyphs" fill="#111" stroke="#111" stroke-width="0.2">UPC 25-160</text>
<text x="336.6" y="189.56" font-size="7.5" text-anchor="end" fill="#111" stroke="#111" stroke-width="0.2">0</text>
<text x="336.6" y="169.16" font-size="7.5" text-anchor="end" fill="#111" stroke="#111" stroke-width="0.2">4</text>
<text x="336.6" y="149.16" font-size="7.5" text-anchor="end" fill="#111" stroke="#111" stroke-width="0.2">8</text>
<text x="336.6" y="128.66" font-size="7.5" textLength="7.51" lengthAdjust="spacingAndGlyphs" text-anchor="end" fill="#111" stroke="#111" stroke-width="0.2">12</text>
<text x="336.6" y="108.16" font-size="7.5" textLength="7.51" lengthAdjust="spacingAndGlyphs" text-anchor="end" fill="#111" stroke="#111" stroke-width="0.2">16</text>
<text x="336.6" y="87.66" font-size="7.5" textLength="7.51" lengthAdjust="spacingAndGlyphs" text-anchor="end" fill="#111" stroke="#111" stroke-width="0.2">20</text>
<text x="343.6" y="199.6" font-size="7.5" text-anchor="middle" fill="#111" stroke="#111" stroke-width="0.2">0</text>
<text x="369.24" y="199.6" font-size="7.5" text-anchor="middle" fill="#111" stroke="#111" stroke-width="0.2">2</text>
<text x="394.88" y="199.6" font-size="7.5" text-anchor="middle" fill="#111" stroke="#111" stroke-width="0.2">4</text>
<text x="420.52" y="199.6" font-size="7.5" text-anchor="middle" fill="#111" stroke="#111" stroke-width="0.2">6</text>
<text x="446.16" y="199.6" font-size="7.5" text-anchor="middle" fill="#111" stroke="#111" stroke-width="0.2">8</text>
<text x="471.8" y="199.6" font-size="7.5" textLength="7.51" lengthAdjust="spacingAndGlyphs" text-anchor="middle" fill="#111" stroke="#111" stroke-width="0.2">10</text>
<text x="497.44" y="199.6" font-size="7.5" textLength="7.51" lengthAdjust="spacingAndGlyphs" text-anchor="middle" fill="#111" stroke="#111" stroke-width="0.2">12</text>
<text x="336.3" y="69.0" font-size="7.4" text-anchor="end" fill="#111" stroke="#111" stroke-width="0.2">H(m)</text>
<text x="509.6" y="199.5" font-size="7.9" fill="#111" stroke="#111" stroke-width="0.2">Q(m³/h)</text>
<line x1="340.5" y1="339.5" x2="522.5" y2="339.5" stroke="#2a2a2a" stroke-width="0.75"/>
<line x1="340.5" y1="324" x2="522.5" y2="324" stroke="#2a2a2a" stroke-width="0.75"/>
<line x1="340.5" y1="308.5" x2="522.5" y2="308.5" stroke="#2a2a2a" stroke-width="0.75"/>
<line x1="340.5" y1="293.5" x2="522.5" y2="293.5" stroke="#2a2a2a" stroke-width="0.75"/>
<line x1="340.5" y1="278" x2="522.5" y2="278" stroke="#2a2a2a" stroke-width="0.75"/>
<line x1="340.5" y1="262.5" x2="522.5" y2="262.5" stroke="#2a2a2a" stroke-width="0.75"/>
<line x1="340.5" y1="247.5" x2="522.5" y2="247.5" stroke="#2a2a2a" stroke-width="0.75"/>
<line x1="361.5" y1="231" x2="361.5" y2="359" stroke="#2a2a2a" stroke-width="0.75"/>
<line x1="379.75" y1="231" x2="379.75" y2="359" stroke="#2a2a2a" stroke-width="0.75"/>
<line x1="396.5" y1="231" x2="396.5" y2="359" stroke="#2a2a2a" stroke-width="0.75"/>
<line x1="414.5" y1="231" x2="414.5" y2="359" stroke="#2a2a2a" stroke-width="0.75"/>
<line x1="432" y1="231" x2="432" y2="359" stroke="#2a2a2a" stroke-width="0.75"/>
<line x1="449.5" y1="231" x2="449.5" y2="359" stroke="#2a2a2a" stroke-width="0.75"/>
<line x1="467.5" y1="231" x2="467.5" y2="359" stroke="#2a2a2a" stroke-width="0.75"/>
<line x1="484.5" y1="231" x2="484.5" y2="359" stroke="#2a2a2a" stroke-width="0.75"/>
<line x1="502.5" y1="231" x2="502.5" y2="359" stroke="#2a2a2a" stroke-width="0.75"/>
<line x1="340.5" y1="231" x2="522.5" y2="231" stroke="#2a2a2a" stroke-width="0.75"/>
<line x1="340.5" y1="354.5" x2="522.5" y2="354.5" stroke="#2a2a2a" stroke-width="0.75"/>
<line x1="344.5" y1="231" x2="344.5" y2="359" stroke="#2a2a2a" stroke-width="0.75"/>
<line x1="522.5" y1="231" x2="522.5" y2="359" stroke="#2a2a2a" stroke-width="0.75"/>
<clipPath id="c4"><rect x="344.5" y="231.35" width="177.93" height="123.25"/></clipPath>
<g clip-path="url(#c4)"><path d="M344.5,354.6 L344.83,354.55 L345.17,354.39 L345.5,354.12 L345.84,353.75 L346.17,353.26 L346.5,352.68 L346.84,351.98 L347.17,351.18 L347.51,350.27 L347.84,349.26 L348.17,348.14 L348.51,346.91 L348.84,345.57 L349.18,344.13 L349.51,342.58 L349.84,340.93 L350.18,339.17 L350.51,337.3 L350.85,335.32 L351.18,333.24 L351.51,331.05 L351.85,328.75 L352.18,326.35 L352.51,323.84 L352.85,321.22 L353.18,318.5 L353.52,315.67 L353.85,312.73 L354.18,309.68 L354.52,306.53 L354.85,303.27 L355.19,299.91 L355.52,296.44 L355.85,292.86 L356.19,289.18 L356.52,285.38 L356.86,281.48 L357.19,277.48 L357.52,273.37 L357.86,269.15 L358.19,264.82 L358.53,260.39 L358.86,255.85 L359.19,251.2 L359.53,246.45 L359.86,241.59 L360.2,236.62 L360.53,231.55 L360.86,226.37" fill="none" stroke="#3a3a3a" stroke-width="0.6"/><path d="M344.5,354.6 L345.25,354.55 L346.01,354.39 L346.76,354.12 L347.52,353.75 L348.27,353.26 L349.03,352.68 L349.78,351.98 L350.54,351.18 L351.29,350.27 L352.05,349.26 L352.8,348.14 L353.56,346.91 L354.31,345.57 L355.06,344.13 L355.82,342.58 L356.57,340.93 L357.33,339.17 L358.08,337.3 L358.84,335.32 L359.59,333.24 L360.35,331.05 L361.1,328.75 L361.86,326.35 L362.61,323.84 L363.37,321.22 L364.12,318.5 L364.88,315.67 L365.63,312.73 L366.38,309.68 L367.14,306.53 L367.89,303.27 L368.65,299.91 L369.4,296.44 L370.16,292.86 L370.91,289.18 L371.67,285.38 L372.42,281.48 L373.18,277.48 L373.93,273.37 L374.69,269.15 L375.44,264.82 L376.19,260.39 L376.95,255.85 L377.7,251.2 L378.46,246.45 L379.21,241.59 L379.97,236.62 L380.72,231.55 L381.48,226.37" fill="none" stroke="#3a3a3a" stroke-width="0.6"/><path d="M344.5,354.6 L345.69,354.55 L346.87,354.39 L348.06,354.12 L349.25,353.75 L350.43,353.26 L351.62,352.68 L352.81,351.98 L354,351.18 L355.18,350.27 L356.37,349.26 L357.56,348.14 L358.74,346.91 L359.93,345.57 L361.12,344.13 L362.3,342.58 L363.49,340.93 L364.68,339.17 L365.86,337.3 L367.05,335.32 L368.24,333.24 L369.42,331.05 L370.61,328.75 L371.8,326.35 L372.99,323.84 L374.17,321.22 L375.36,318.5 L376.55,315.67 L377.73,312.73 L378.92,309.68 L380.11,306.53 L381.29,303.27 L382.48,299.91 L383.67,296.44 L384.85,292.86 L386.04,289.18 L387.23,285.38 L388.41,281.48 L389.6,277.48 L390.79,273.37 L391.98,269.15 L393.16,264.82 L394.35,260.39 L395.54,255.85 L396.72,251.2 L397.91,246.45 L399.1,241.59 L400.28,236.62 L401.47,231.55 L402.66,226.37" fill="none" stroke="#3a3a3a" stroke-width="0.6"/><path d="M344.5,354.6 L346.07,354.55 L347.63,354.39 L349.2,354.12 L350.77,353.75 L352.34,353.26 L353.9,352.68 L355.47,351.98 L357.04,351.18 L358.6,350.27 L360.17,349.26 L361.74,348.14 L363.3,346.91 L364.87,345.57 L366.44,344.13 L368.01,342.58 L369.57,340.93 L371.14,339.17 L372.71,337.3 L374.27,335.32 L375.84,333.24 L377.41,331.05 L378.97,328.75 L380.54,326.35 L382.11,323.84 L383.68,321.22 L385.24,318.5 L386.81,315.67 L388.38,312.73 L389.94,309.68 L391.51,306.53 L393.08,303.27 L394.64,299.91 L396.21,296.44 L397.78,292.86 L399.35,289.18 L400.91,285.38 L402.48,281.48 L404.05,277.48 L405.61,273.37 L407.18,269.15 L408.75,264.82 L410.31,260.39 L411.88,255.85 L413.45,251.2 L415.02,246.45 L416.58,241.59 L418.15,236.62 L419.72,231.55 L421.28,226.37" fill="none" stroke="#3a3a3a" stroke-width="0.6"/><path d="M344.5,354.6 L346.67,354.55 L348.83,354.39 L351,354.12 L353.17,353.75 L355.33,353.26 L357.5,352.68 L359.67,351.98 L361.84,351.18 L364,350.27 L366.17,349.26 L368.34,348.14 L370.5,346.91 L372.67,345.57 L374.84,344.13 L377,342.58 L379.17,340.93 L381.34,339.17 L383.5,337.3 L385.67,335.32 L387.84,333.24 L390.01,331.05 L392.17,328.75 L394.34,326.35 L396.51,323.84 L398.67,321.22 L400.84,318.5 L403.01,315.67 L405.17,312.73 L407.34,309.68 L409.51,306.53 L411.68,303.27 L413.84,299.91 L416.01,296.44 L418.18,292.86 L420.34,289.18 L422.51,285.38 L424.68,281.48 L426.84,277.48 L429.01,273.37 L431.18,269.15 L433.34,264.82 L435.51,260.39 L437.68,255.85 L439.85,251.2 L442.01,246.45 L444.18,241.59 L446.35,236.62 L448.51,231.55 L450.68,226.37" fill="none" stroke="#3a3a3a" stroke-width="0.6"/><path d="M344.5,354.6 L347.27,354.55 L350.05,354.39 L352.82,354.12 L355.59,353.75 L358.37,353.26 L361.14,352.68 L363.91,351.98 L366.69,351.18 L369.46,350.27 L372.23,349.26 L375.01,348.14 L377.78,346.91 L380.55,345.57 L383.33,344.13 L386.1,342.58 L388.87,340.93 L391.65,339.17 L394.42,337.3 L397.19,335.32 L399.97,333.24 L402.74,331.05 L405.51,328.75 L408.29,326.35 L411.06,323.84 L413.83,321.22 L416.61,318.5 L419.38,315.67 L422.15,312.73 L424.93,309.68 L427.7,306.53 L430.47,303.27 L433.25,299.91 L436.02,296.44 L438.79,292.86 L441.56,289.18 L444.34,285.38 L447.11,281.48 L449.88,277.48 L452.66,273.37 L455.43,269.15 L458.2,264.82 L460.98,260.39 L463.75,255.85 L466.52,251.2 L469.3,246.45 L472.07,241.59 L474.84,236.62 L477.62,231.55 L480.39,226.37" fill="none" stroke="#3a3a3a" stroke-width="0.6"/><path d="M344.5,354.6 L348.1,354.55 L351.71,354.39 L355.31,354.12 L358.92,353.75 L362.52,353.26 L366.13,352.68 L369.73,351.98 L373.34,351.18 L376.94,350.27 L380.55,349.26 L384.15,348.14 L387.75,346.91 L391.36,345.57 L394.96,344.13 L398.57,342.58 L402.17,340.93 L405.78,339.17 L409.38,337.3 L412.99,335.32 L416.59,333.24 L420.2,331.05 L423.8,328.75 L427.4,326.35 L431.01,323.84 L434.61,321.22 L438.22,318.5 L441.82,315.67 L445.43,312.73 L449.03,309.68 L452.64,306.53 L456.24,303.27 L459.85,299.91 L463.45,296.44 L467.05,292.86 L470.66,289.18 L474.26,285.38 L477.87,281.48 L481.47,277.48 L485.08,273.37 L488.68,269.15 L492.29,264.82 L495.89,260.39 L499.5,255.85 L503.1,251.2 L506.7,246.45 L510.31,241.59 L513.91,236.62 L517.52,231.55 L521.12,226.37" fill="none" stroke="#3a3a3a" stroke-width="0.6"/><path d="M344.5,354.6 L348.2,354.57 L351.91,354.49 L355.61,354.36 L359.32,354.18 L363.02,353.94 L366.72,353.64 L370.43,353.3 L374.13,352.9 L377.83,352.45 L381.54,351.94 L385.24,351.39 L388.95,350.78 L392.65,350.11 L396.35,349.4 L400.06,348.63 L403.76,347.8 L407.47,346.93 L411.17,346 L414.87,345.01 L418.58,343.98 L422.28,342.89 L425.98,341.75 L429.69,340.55 L433.39,339.31 L437.1,338 L440.8,336.65 L444.5,335.24 L448.21,333.78 L451.91,332.27 L455.62,330.7 L459.32,329.08 L463.02,327.41 L466.73,325.68 L470.43,323.9 L474.13,322.07 L477.84,320.19 L481.54,318.25 L485.25,316.26 L488.95,314.21 L492.65,312.12 L496.36,309.96 L500.06,307.76 L503.77,305.5 L507.47,303.19 L511.17,300.83 L514.88,298.41 L518.58,295.94 L522.28,293.42 L525.99,290.85" fill="none" stroke="#3a3a3a" stroke-width="0.6"/></g>
<g clip-path="url(#c4)"><path d="M344.5,259.94 L347.53,260.54 L350.56,261.13 L353.59,261.72 L356.62,262.3 L359.65,262.87 L362.68,263.44 L365.71,264.02 L368.74,264.6 L371.78,265.18 L374.81,265.78 L377.84,266.38 L380.87,267 L383.9,267.64 L386.93,268.29 L389.96,268.96 L392.99,269.66 L396.02,270.38 L399.05,271.12 L402.08,271.9 L405.11,272.7 L408.14,273.54 L411.17,274.41 L414.2,275.31 L417.23,276.25 L420.27,277.23 L423.3,278.25 L426.33,279.31 L429.36,280.41 L432.39,281.55 L435.42,282.74 L438.45,283.98 L441.48,285.27 L444.51,286.6 L447.54,287.98 L450.57,289.41 L453.6,290.9 L456.63,292.43 L459.66,294.02 L462.69,295.67 L465.72,297.36 L468.76,299.12 L471.79,300.93 L474.82,302.79 L477.85,304.71 L480.88,306.69 L483.91,308.73 L486.94,310.82 L489.97,312.97 L493,315.18 L496.03,317.45 L499.06,319.77 L502.09,322.16 L505.12,324.6 L508.15,327.1 L511.18,329.66 L514.21,332.27 L517.24,334.95 L520.28,337.68 L523.31,340.46" fill="none" stroke="#222" stroke-width="0.8"/><path d="M370.62,264.96 L372.86,265.39 L375.09,265.83 L377.33,266.28 L379.57,266.73 L381.81,267.2 L384.04,267.67 L386.28,268.15 L388.52,268.64 L390.76,269.14 L392.99,269.66 L395.23,270.19 L397.47,270.73 L399.7,271.29 L401.94,271.86 L404.18,272.45 L406.42,273.06 L408.65,273.68 L410.89,274.32 L413.13,274.98 L415.37,275.67 L417.6,276.37 L419.84,277.09 L422.08,277.83 L424.31,278.6 L426.55,279.39 L428.79,280.2 L431.03,281.03 L433.26,281.89 L435.5,282.78 L437.74,283.69 L439.98,284.62 L442.21,285.58 L444.45,286.57 L446.69,287.59 L448.93,288.63 L451.16,289.7 L453.4,290.8 L455.64,291.92 L457.87,293.08 L460.11,294.26 L462.35,295.48 L464.59,296.72 L466.82,297.99 L469.06,299.3 L471.3,300.63 L473.54,302 L475.77,303.39 L478.01,304.82 L480.25,306.27 L482.48,307.76 L484.72,309.28 L486.96,310.83 L489.2,312.42 L491.43,314.03 L493.67,315.68 L495.91,317.36 L498.15,319.07 L500.38,320.81 L502.62,322.58" fill="none" stroke="#7b2a12" stroke-width="2.8" stroke-linecap="butt"/><path d="M344.5,285.62 L347,286.19 L349.51,286.78 L352.01,287.36 L354.51,287.94 L357.02,288.53 L359.52,289.12 L362.02,289.71 L364.53,290.3 L367.03,290.89 L369.53,291.49 L372.04,292.08 L374.54,292.66 L377.04,293.23 L379.55,293.79 L382.05,294.37 L384.55,294.96 L387.05,295.58 L389.56,296.23 L392.06,296.92 L394.56,297.67 L397.07,298.48 L399.57,299.33 L402.07,300.22 L404.58,301.15 L407.08,302.09 L409.58,303.05 L412.09,304.02 L414.59,304.99 L417.09,305.97 L419.6,306.99 L422.1,308.02 L424.6,309.07 L427.11,310.14 L429.61,311.22 L432.11,312.31 L434.62,313.41 L437.12,314.52 L439.62,315.65 L442.13,316.8 L444.63,317.98 L447.13,319.21 L449.64,320.47 L452.14,321.75 L454.64,323.08 L457.15,324.45 L459.65,325.87 L462.15,327.36 L464.65,328.93 L467.16,330.62 L469.66,332.39 L472.16,334.21 L474.67,336.04 L477.17,337.86 L479.67,339.56 L482.18,341.12 L484.68,343 L487.18,345.73 L489.69,349.73 L492.19,354.6" fill="none" stroke="#222" stroke-width="0.8"/><path d="M370.62,291.75 L372.44,292.18 L374.26,292.6 L376.08,293.01 L377.91,293.42 L379.73,293.83 L381.55,294.25 L383.37,294.68 L385.19,295.12 L387.01,295.57 L388.83,296.04 L390.65,296.53 L392.48,297.04 L394.3,297.59 L396.12,298.17 L397.94,298.77 L399.76,299.4 L401.58,300.05 L403.4,300.71 L405.23,301.39 L407.05,302.08 L408.87,302.78 L410.69,303.48 L412.51,304.18 L414.33,304.89 L416.15,305.6 L417.97,306.33 L419.8,307.07 L421.62,307.82 L423.44,308.58 L425.26,309.35 L427.08,310.13 L428.9,310.91 L430.72,311.7 L432.55,312.5 L434.37,313.3 L436.19,314.11 L438.01,314.92 L439.83,315.74 L441.65,316.58 L443.47,317.43 L445.29,318.3 L447.12,319.2 L448.94,320.11 L450.76,321.04 L452.58,321.98 L454.4,322.95 L456.22,323.94 L458.04,324.95 L459.87,326 L461.69,327.08 L463.51,328.2 L465.33,329.38 L467.15,330.61 L468.97,331.9 L470.79,333.21 L472.61,334.54 L474.44,335.87 L476.26,337.2 L478.08,338.5" fill="none" stroke="#7b2a12" stroke-width="2.8" stroke-linecap="butt"/></g>
<rect x="476" y="296.3" width="32" height="8.3" fill="#fff"/>
<text x="477.8" y="303.6" font-size="7.2" textLength="29.2" lengthAdjust="spacingAndGlyphs" fill="#111" stroke="#111" stroke-width="0.2">UPF 40-60</text>
<rect x="438" y="340.5" width="33" height="9.5" fill="#fff"/>
<text x="439.9" y="347.8" font-size="7.2" textLength="29.2" lengthAdjust="spacingAndGlyphs" fill="#111" stroke="#111" stroke-width="0.2">UPF 40-45</text>
<text x="337.5" y="357.16" font-size="7.5" text-anchor="end" fill="#111" stroke="#111" stroke-width="0.2">0</text>
<text x="337.5" y="342.16" font-size="7.5" text-anchor="end" fill="#111" stroke="#111" stroke-width="0.2">1</text>
<text x="337.5" y="326.66" font-size="7.5" text-anchor="end" fill="#111" stroke="#111" stroke-width="0.2">2</text>
<text x="337.5" y="311.16" font-size="7.5" text-anchor="end" fill="#111" stroke="#111" stroke-width="0.2">3</text>
<text x="337.5" y="296.16" font-size="7.5" text-anchor="end" fill="#111" stroke="#111" stroke-width="0.2">4</text>
<text x="337.5" y="280.66" font-size="7.5" text-anchor="end" fill="#111" stroke="#111" stroke-width="0.2">5</text>
<text x="337.5" y="265.16" font-size="7.5" text-anchor="end" fill="#111" stroke="#111" stroke-width="0.2">6</text>
<text x="337.5" y="250.16" font-size="7.5" text-anchor="end" fill="#111" stroke="#111" stroke-width="0.2">7</text>
<text x="344.5" y="367.6" font-size="7.5" text-anchor="middle" fill="#111" stroke="#111" stroke-width="0.2">0</text>
<text x="362.03" y="367.6" font-size="7.5" text-anchor="middle" fill="#111" stroke="#111" stroke-width="0.2">2</text>
<text x="379.56" y="367.6" font-size="7.5" text-anchor="middle" fill="#111" stroke="#111" stroke-width="0.2">4</text>
<text x="397.09" y="367.6" font-size="7.5" text-anchor="middle" fill="#111" stroke="#111" stroke-width="0.2">6</text>
<text x="414.62" y="367.6" font-size="7.5" text-anchor="middle" fill="#111" stroke="#111" stroke-width="0.2">8</text>
<text x="432.15" y="367.6" font-size="7.5" textLength="7.51" lengthAdjust="spacingAndGlyphs" text-anchor="middle" fill="#111" stroke="#111" stroke-width="0.2">10</text>
<text x="449.68" y="367.6" font-size="7.5" textLength="7.51" lengthAdjust="spacingAndGlyphs" text-anchor="middle" fill="#111" stroke="#111" stroke-width="0.2">12</text>
<text x="467.21" y="367.6" font-size="7.5" textLength="7.51" lengthAdjust="spacingAndGlyphs" text-anchor="middle" fill="#111" stroke="#111" stroke-width="0.2">14</text>
<text x="484.74" y="367.6" font-size="7.5" textLength="7.51" lengthAdjust="spacingAndGlyphs" text-anchor="middle" fill="#111" stroke="#111" stroke-width="0.2">16</text>
<text x="337.0" y="236.6" font-size="7.4" text-anchor="end" fill="#111" stroke="#111" stroke-width="0.2">H(m)</text>
<text x="495.9" y="367.6" font-size="7.9" fill="#111" stroke="#111" stroke-width="0.2">Q(m³/h)</text>
<line x1="101" y1="523" x2="282.5" y2="523" stroke="#2a2a2a" stroke-width="0.75"/>
<line x1="101" y1="505.5" x2="282.5" y2="505.5" stroke="#2a2a2a" stroke-width="0.75"/>
<line x1="101" y1="488" x2="282.5" y2="488" stroke="#2a2a2a" stroke-width="0.75"/>
<line x1="101" y1="470.5" x2="282.5" y2="470.5" stroke="#2a2a2a" stroke-width="0.75"/>
<line x1="101" y1="452.5" x2="282.5" y2="452.5" stroke="#2a2a2a" stroke-width="0.75"/>
<line x1="101" y1="435.5" x2="282.5" y2="435.5" stroke="#2a2a2a" stroke-width="0.75"/>
<line x1="130" y1="417.5" x2="130" y2="545" stroke="#2a2a2a" stroke-width="0.75"/>
<line x1="154.5" y1="417.5" x2="154.5" y2="545" stroke="#2a2a2a" stroke-width="0.75"/>
<line x1="180" y1="417.5" x2="180" y2="545" stroke="#2a2a2a" stroke-width="0.75"/>
<line x1="204.5" y1="417.5" x2="204.5" y2="545" stroke="#2a2a2a" stroke-width="0.75"/>
<line x1="229.25" y1="417.5" x2="229.25" y2="545" stroke="#2a2a2a" stroke-width="0.75"/>
<line x1="254.5" y1="417.5" x2="254.5" y2="545" stroke="#2a2a2a" stroke-width="0.75"/>
<line x1="101" y1="417.5" x2="282.5" y2="417.5" stroke="#2a2a2a" stroke-width="0.75"/>
<line x1="101" y1="540.5" x2="282.5" y2="540.5" stroke="#2a2a2a" stroke-width="0.75"/>
<line x1="105" y1="417.5" x2="105" y2="545" stroke="#2a2a2a" stroke-width="0.75"/>
<line x1="282.5" y1="417.5" x2="282.5" y2="545" stroke="#2a2a2a" stroke-width="0.75"/>
<clipPath id="c5"><rect x="105" y="417.38" width="177.7" height="123.22"/></clipPath>
<g clip-path="url(#c5)"><path d="M105,540.6 L105.29,540.55 L105.57,540.39 L105.86,540.12 L106.14,539.75 L106.43,539.27 L106.71,538.68 L107,537.98 L107.29,537.18 L107.57,536.28 L107.86,535.26 L108.14,534.14 L108.43,532.91 L108.71,531.58 L109,530.13 L109.29,528.59 L109.57,526.93 L109.86,525.17 L110.14,523.3 L110.43,521.33 L110.71,519.24 L111,517.05 L111.28,514.76 L111.57,512.36 L111.86,509.85 L112.14,507.23 L112.43,504.51 L112.71,501.68 L113,498.74 L113.28,495.7 L113.57,492.55 L113.86,489.29 L114.14,485.93 L114.43,482.46 L114.71,478.88 L115,475.19 L115.28,471.4 L115.57,467.51 L115.86,463.5 L116.14,459.39 L116.43,455.17 L116.71,450.85 L117,446.41 L117.28,441.88 L117.57,437.23 L117.86,432.48 L118.14,427.62 L118.43,422.65 L118.71,417.58 L119,412.4" fill="none" stroke="#3a3a3a" stroke-width="0.6"/><path d="M105,540.6 L105.54,540.55 L106.07,540.39 L106.61,540.12 L107.15,539.75 L107.69,539.27 L108.22,538.68 L108.76,537.98 L109.3,537.18 L109.84,536.28 L110.37,535.26 L110.91,534.14 L111.45,532.91 L111.98,531.58 L112.52,530.13 L113.06,528.59 L113.6,526.93 L114.13,525.17 L114.67,523.3 L115.21,521.33 L115.74,519.24 L116.28,517.05 L116.82,514.76 L117.36,512.36 L117.89,509.85 L118.43,507.23 L118.97,504.51 L119.51,501.68 L120.04,498.74 L120.58,495.7 L121.12,492.55 L121.65,489.29 L122.19,485.93 L122.73,482.46 L123.27,478.88 L123.8,475.19 L124.34,471.4 L124.88,467.51 L125.42,463.5 L125.95,459.39 L126.49,455.17 L127.03,450.85 L127.56,446.41 L128.1,441.88 L128.64,437.23 L129.18,432.48 L129.71,427.62 L130.25,422.65 L130.79,417.58 L131.32,412.4" fill="none" stroke="#3a3a3a" stroke-width="0.6"/><path d="M105,540.6 L105.85,540.55 L106.7,540.39 L107.55,540.12 L108.4,539.75 L109.25,539.27 L110.1,538.68 L110.95,537.98 L111.8,537.18 L112.65,536.28 L113.5,535.26 L114.35,534.14 L115.2,532.91 L116.05,531.58 L116.9,530.13 L117.75,528.59 L118.6,526.93 L119.45,525.17 L120.3,523.3 L121.15,521.33 L122,519.24 L122.85,517.05 L123.7,514.76 L124.55,512.36 L125.4,509.85 L126.25,507.23 L127.1,504.51 L127.95,501.68 L128.8,498.74 L129.65,495.7 L130.5,492.55 L131.35,489.29 L132.2,485.93 L133.05,482.46 L133.9,478.88 L134.75,475.19 L135.6,471.4 L136.45,467.51 L137.3,463.5 L138.15,459.39 L139,455.17 L139.85,450.85 L140.7,446.41 L141.55,441.88 L142.4,437.23 L143.25,432.48 L144.1,427.62 L144.95,422.65 L145.81,417.58 L146.66,412.4" fill="none" stroke="#3a3a3a" stroke-width="0.6"/><path d="M105,540.6 L106.27,540.55 L107.53,540.39 L108.8,540.12 L110.07,539.75 L111.33,539.27 L112.6,538.68 L113.87,537.98 L115.13,537.18 L116.4,536.28 L117.67,535.26 L118.93,534.14 L120.2,532.91 L121.47,531.58 L122.73,530.13 L124,528.59 L125.27,526.93 L126.53,525.17 L127.8,523.3 L129.07,521.33 L130.33,519.24 L131.6,517.05 L132.87,514.76 L134.13,512.36 L135.4,509.85 L136.67,507.23 L137.93,504.51 L139.2,501.68 L140.47,498.74 L141.74,495.7 L143,492.55 L144.27,489.29 L145.54,485.93 L146.8,482.46 L148.07,478.88 L149.34,475.19 L150.6,471.4 L151.87,467.51 L153.14,463.5 L154.4,459.39 L155.67,455.17 L156.94,450.85 L158.2,446.41 L159.47,441.88 L160.74,437.23 L162,432.48 L163.27,427.62 L164.54,422.65 L165.8,417.58 L167.07,412.4" fill="none" stroke="#3a3a3a" stroke-width="0.6"/><path d="M105,540.6 L106.71,540.55 L108.43,540.39 L110.14,540.12 L111.86,539.75 L113.57,539.27 L115.29,538.68 L117,537.98 L118.72,537.18 L120.43,536.28 L122.15,535.26 L123.86,534.14 L125.58,532.91 L127.29,531.58 L129.01,530.13 L130.72,528.59 L132.43,526.93 L134.15,525.17 L135.86,523.3 L137.58,521.33 L139.29,519.24 L141.01,517.05 L142.72,514.76 L144.44,512.36 L146.15,509.85 L147.87,507.23 L149.58,504.51 L151.3,501.68 L153.01,498.74 L154.73,495.7 L156.44,492.55 L158.15,489.29 L159.87,485.93 L161.58,482.46 L163.3,478.88 L165.01,475.19 L166.73,471.4 L168.44,467.51 L170.16,463.5 L171.87,459.39 L173.59,455.17 L175.3,450.85 L177.02,446.41 L178.73,441.88 L180.45,437.23 L182.16,432.48 L183.87,427.62 L185.59,422.65 L187.3,417.58 L189.02,412.4" fill="none" stroke="#3a3a3a" stroke-width="0.6"/><path d="M105,540.6 L107.36,540.55 L109.72,540.39 L112.08,540.12 L114.44,539.75 L116.8,539.27 L119.16,538.68 L121.52,537.98 L123.88,537.18 L126.24,536.28 L128.6,535.26 L130.96,534.14 L133.32,532.91 L135.68,531.58 L138.04,530.13 L140.4,528.59 L142.76,526.93 L145.12,525.17 L147.48,523.3 L149.84,521.33 L152.2,519.24 L154.56,517.05 L156.92,514.76 L159.28,512.36 L161.64,509.85 L164,507.23 L166.36,504.51 L168.72,501.68 L171.08,498.74 L173.44,495.7 L175.8,492.55 L178.16,489.29 L180.52,485.93 L182.88,482.46 L185.23,478.88 L187.59,475.19 L189.95,471.4 L192.31,467.51 L194.67,463.5 L197.03,459.39 L199.39,455.17 L201.75,450.85 L204.11,446.41 L206.47,441.88 L208.83,437.23 L211.19,432.48 L213.55,427.62 L215.91,422.65 L218.27,417.58 L220.63,412.4" fill="none" stroke="#3a3a3a" stroke-width="0.6"/><path d="M105,540.6 L108,540.55 L111.01,540.39 L114.01,540.12 L117.01,539.75 L120.01,539.27 L123.02,538.68 L126.02,537.98 L129.02,537.18 L132.02,536.28 L135.03,535.26 L138.03,534.14 L141.03,532.91 L144.04,531.58 L147.04,530.13 L150.04,528.59 L153.04,526.93 L156.05,525.17 L159.05,523.3 L162.05,521.33 L165.05,519.24 L168.06,517.05 L171.06,514.76 L174.06,512.36 L177.07,509.85 L180.07,507.23 L183.07,504.51 L186.07,501.68 L189.08,498.74 L192.08,495.7 L195.08,492.55 L198.08,489.29 L201.09,485.93 L204.09,482.46 L207.09,478.88 L210.1,475.19 L213.1,471.4 L216.1,467.51 L219.1,463.5 L222.11,459.39 L225.11,455.17 L228.11,450.85 L231.11,446.41 L234.12,441.88 L237.12,437.23 L240.12,432.48 L243.12,427.62 L246.13,422.65 L249.13,417.58 L252.13,412.4" fill="none" stroke="#3a3a3a" stroke-width="0.6"/><path d="M105,540.6 L108.7,540.55 L112.4,540.4 L116.1,540.15 L119.8,539.8 L123.5,539.35 L127.19,538.8 L130.89,538.15 L134.59,537.4 L138.29,536.56 L141.99,535.61 L145.69,534.56 L149.39,533.41 L153.09,532.16 L156.79,530.81 L160.49,529.37 L164.18,527.82 L167.88,526.17 L171.58,524.42 L175.28,522.58 L178.98,520.63 L182.68,518.58 L186.38,516.43 L190.08,514.19 L193.78,511.84 L197.48,509.4 L201.17,506.85 L204.87,504.2 L208.57,501.46 L212.27,498.61 L215.97,495.67 L219.67,492.62 L223.37,489.47 L227.07,486.23 L230.77,482.88 L234.47,479.44 L238.16,475.89 L241.86,472.25 L245.56,468.5 L249.26,464.66 L252.96,460.72 L256.66,456.67 L260.36,452.53 L264.06,448.28 L267.76,443.94 L271.46,439.5 L275.15,434.95 L278.85,430.31 L282.55,425.57 L286.25,420.72" fill="none" stroke="#3a3a3a" stroke-width="0.6"/><path d="M105,540.6 L108.7,540.58 L112.4,540.51 L116.1,540.4 L119.8,540.24 L123.5,540.03 L127.19,539.78 L130.89,539.48 L134.59,539.14 L138.29,538.76 L141.99,538.32 L145.69,537.85 L149.39,537.32 L153.09,536.75 L156.79,536.14 L160.49,535.48 L164.18,534.77 L167.88,534.02 L171.58,533.22 L175.28,532.38 L178.98,531.49 L182.68,530.56 L186.38,529.58 L190.08,528.56 L193.78,527.49 L197.48,526.37 L201.17,525.21 L204.87,524 L208.57,522.75 L212.27,521.45 L215.97,520.11 L219.67,518.72 L223.37,517.29 L227.07,515.81 L230.77,514.28 L234.47,512.71 L238.16,511.1 L241.86,509.44 L245.56,507.73 L249.26,505.98 L252.96,504.18 L256.66,502.33 L260.36,500.44 L264.06,498.51 L267.76,496.53 L271.46,494.5 L275.15,492.43 L278.85,490.31 L282.55,488.15 L286.25,485.94" fill="none" stroke="#3a3a3a" stroke-width="0.6"/></g>
<g clip-path="url(#c5)"><path d="M105,435.34 L107.54,435.9 L110.09,436.51 L112.63,437.17 L115.17,437.88 L117.71,438.63 L120.26,439.41 L122.8,440.24 L125.34,441.1 L127.88,441.99 L130.43,442.92 L132.97,443.87 L135.51,444.86 L138.05,445.87 L140.6,446.92 L143.14,447.99 L145.68,449.08 L148.22,450.2 L150.77,451.35 L153.31,452.52 L155.85,453.71 L158.39,454.93 L160.94,456.18 L163.48,457.46 L166.02,458.76 L168.57,460.09 L171.11,461.45 L173.65,462.84 L176.19,464.27 L178.74,465.72 L181.28,467.22 L183.82,468.75 L186.36,470.32 L188.91,471.94 L191.45,473.6 L193.99,475.3 L196.53,477.06 L199.08,478.87 L201.62,480.74 L204.16,482.67 L206.7,484.67 L209.25,486.73 L211.79,488.86 L214.33,491.07 L216.87,493.37 L219.42,495.74 L221.96,498.21 L224.5,500.76 L227.05,503.42 L229.59,506.19 L232.13,509.06 L234.67,512.05 L237.22,515.15 L239.76,518.39 L242.3,521.76 L244.84,525.27 L247.39,528.92 L249.93,532.73 L252.47,536.69 L255.01,540.82" fill="none" stroke="#222" stroke-width="0.8"/><path d="M129.19,442.46 L131.02,443.14 L132.85,443.83 L134.68,444.54 L136.51,445.26 L138.34,445.99 L140.17,446.74 L142,447.51 L143.83,448.28 L145.66,449.07 L147.5,449.88 L149.33,450.69 L151.16,451.52 L152.99,452.37 L154.82,453.22 L156.65,454.09 L158.48,454.97 L160.31,455.87 L162.14,456.78 L163.97,457.71 L165.8,458.64 L167.63,459.6 L169.46,460.56 L171.29,461.55 L173.12,462.55 L174.95,463.57 L176.78,464.6 L178.61,465.65 L180.44,466.72 L182.27,467.81 L184.1,468.92 L185.93,470.05 L187.76,471.2 L189.59,472.38 L191.42,473.58 L193.25,474.8 L195.08,476.05 L196.91,477.33 L198.74,478.63 L200.58,479.97 L202.41,481.33 L204.24,482.73 L206.07,484.16 L207.9,485.63 L209.73,487.13 L211.56,488.67 L213.39,490.24 L215.22,491.86 L217.05,493.52 L218.88,495.23 L220.71,496.98 L222.54,498.78 L224.37,500.63 L226.2,502.53 L228.03,504.48 L229.86,506.49 L231.69,508.55 L233.52,510.68 L235.35,512.86 L237.18,515.11" fill="none" stroke="#7b2a12" stroke-width="2.8" stroke-linecap="butt"/><path d="M105,463.33 L107.03,464.54 L109.07,465.55 L111.1,466.4 L113.13,467.11 L115.17,467.7 L117.2,468.21 L119.23,468.66 L121.27,469.05 L123.3,469.41 L125.33,469.76 L127.37,470.11 L129.4,470.47 L131.43,470.85 L133.47,471.26 L135.5,471.71 L137.53,472.2 L139.57,472.75 L141.6,473.34 L143.63,473.99 L145.66,474.7 L147.7,475.47 L149.73,476.29 L151.76,477.18 L153.8,478.12 L155.83,479.11 L157.86,480.16 L159.9,481.26 L161.93,482.41 L163.96,483.6 L166,484.83 L168.03,486.1 L170.06,487.4 L172.1,488.73 L174.13,490.1 L176.16,491.49 L178.2,492.9 L180.23,494.34 L182.26,495.79 L184.3,497.27 L186.33,498.78 L188.36,500.3 L190.4,501.85 L192.43,503.43 L194.46,505.04 L196.5,506.69 L198.53,508.39 L200.56,510.13 L202.6,511.95 L204.63,513.83 L206.66,515.81 L208.7,517.88 L210.73,520.08 L212.76,522.41 L214.8,524.89 L216.83,527.56 L218.86,530.42 L220.89,533.52 L222.93,536.88 L224.96,540.52" fill="none" stroke="#222" stroke-width="0.8"/><path d="M135.68,471.75 L136.81,472.02 L137.94,472.31 L139.07,472.61 L140.21,472.93 L141.34,473.26 L142.47,473.61 L143.61,473.98 L144.74,474.37 L145.87,474.78 L147,475.2 L148.14,475.64 L149.27,476.1 L150.4,476.58 L151.54,477.08 L152.67,477.59 L153.8,478.12 L154.93,478.67 L156.07,479.23 L157.2,479.81 L158.33,480.41 L159.47,481.02 L160.6,481.65 L161.73,482.29 L162.87,482.95 L164,483.62 L165.13,484.3 L166.26,484.99 L167.4,485.7 L168.53,486.41 L169.66,487.14 L170.8,487.88 L171.93,488.62 L173.06,489.38 L174.19,490.14 L175.33,490.91 L176.46,491.69 L177.59,492.48 L178.73,493.27 L179.86,494.07 L180.99,494.88 L182.12,495.69 L183.26,496.52 L184.39,497.34 L185.52,498.18 L186.66,499.02 L187.79,499.87 L188.92,500.72 L190.05,501.59 L191.19,502.46 L192.32,503.34 L193.45,504.24 L194.59,505.14 L195.72,506.05 L196.85,506.98 L197.98,507.93 L199.12,508.89 L200.25,509.86 L201.38,510.86 L202.52,511.87" fill="none" stroke="#7b2a12" stroke-width="2.8" stroke-linecap="butt"/></g>
<rect x="228" y="492.5" width="36" height="10.5" fill="#fff"/>
<text x="229.8" y="500.8" font-size="7.2" textLength="32.8" lengthAdjust="spacingAndGlyphs" fill="#111" stroke="#111" stroke-width="0.2">UPF 32-120</text>
<rect x="166" y="511.5" width="32" height="10.5" fill="#fff"/>
<text x="167.4" y="520.2" font-size="7.2" textLength="29.4" lengthAdjust="spacingAndGlyphs" fill="#111" stroke="#111" stroke-width="0.2">UPF 32-90</text>
<text x="98" y="543.16" font-size="7.5" text-anchor="end" fill="#111" stroke="#111" stroke-width="0.2">0</text>
<text x="98" y="525.66" font-size="7.5" text-anchor="end" fill="#111" stroke="#111" stroke-width="0.2">2</text>
<text x="98" y="508.16" font-size="7.5" text-anchor="end" fill="#111" stroke="#111" stroke-width="0.2">4</text>
<text x="98" y="490.66" font-size="7.5" text-anchor="end" fill="#111" stroke="#111" stroke-width="0.2">6</text>
<text x="98" y="473.16" font-size="7.5" text-anchor="end" fill="#111" stroke="#111" stroke-width="0.2">8</text>
<text x="98" y="455.16" font-size="7.5" textLength="7.51" lengthAdjust="spacingAndGlyphs" text-anchor="end" fill="#111" stroke="#111" stroke-width="0.2">10</text>
<text x="98" y="438.16" font-size="7.5" textLength="7.51" lengthAdjust="spacingAndGlyphs" text-anchor="end" fill="#111" stroke="#111" stroke-width="0.2">12</text>
<text x="105" y="553.6" font-size="7.5" text-anchor="middle" fill="#111" stroke="#111" stroke-width="0.2">0</text>
<text x="129.94" y="553.6" font-size="7.5" text-anchor="middle" fill="#111" stroke="#111" stroke-width="0.2">2</text>
<text x="154.88" y="553.6" font-size="7.5" text-anchor="middle" fill="#111" stroke="#111" stroke-width="0.2">4</text>
<text x="179.82" y="553.6" font-size="7.5" text-anchor="middle" fill="#111" stroke="#111" stroke-width="0.2">6</text>
<text x="204.76" y="553.6" font-size="7.5" text-anchor="middle" fill="#111" stroke="#111" stroke-width="0.2">8</text>
<text x="229.7" y="553.6" font-size="7.5" textLength="7.51" lengthAdjust="spacingAndGlyphs" text-anchor="middle" fill="#111" stroke="#111" stroke-width="0.2">10</text>
<text x="98.0" y="422.6" font-size="7.4" text-anchor="end" fill="#111" stroke="#111" stroke-width="0.2">H(m)</text>
<text x="257.2" y="553.8" font-size="7.9" fill="#111" stroke="#111" stroke-width="0.2">Q(m³/h)</text>
<line x1="336.5" y1="518" x2="518.5" y2="518" stroke="#2a2a2a" stroke-width="0.75"/>
<line x1="336.5" y1="495.5" x2="518.5" y2="495.5" stroke="#2a2a2a" stroke-width="0.75"/>
<line x1="336.5" y1="472.75" x2="518.5" y2="472.75" stroke="#2a2a2a" stroke-width="0.75"/>
<line x1="336.5" y1="450.5" x2="518.5" y2="450.5" stroke="#2a2a2a" stroke-width="0.75"/>
<line x1="336.5" y1="427.5" x2="518.5" y2="427.5" stroke="#2a2a2a" stroke-width="0.75"/>
<line x1="362.75" y1="417.5" x2="362.75" y2="545" stroke="#2a2a2a" stroke-width="0.75"/>
<line x1="385" y1="417.5" x2="385" y2="545" stroke="#2a2a2a" stroke-width="0.75"/>
<line x1="407.5" y1="417.5" x2="407.5" y2="545" stroke="#2a2a2a" stroke-width="0.75"/>
<line x1="429.75" y1="417.5" x2="429.75" y2="545" stroke="#2a2a2a" stroke-width="0.75"/>
<line x1="452.5" y1="417.5" x2="452.5" y2="545" stroke="#2a2a2a" stroke-width="0.75"/>
<line x1="474.5" y1="417.5" x2="474.5" y2="545" stroke="#2a2a2a" stroke-width="0.75"/>
<line x1="497.5" y1="417.5" x2="497.5" y2="545" stroke="#2a2a2a" stroke-width="0.75"/>
<line x1="336.5" y1="417.5" x2="518.5" y2="417.5" stroke="#2a2a2a" stroke-width="0.75"/>
<line x1="336.5" y1="540.5" x2="518.5" y2="540.5" stroke="#2a2a2a" stroke-width="0.75"/>
<line x1="340.5" y1="417.5" x2="340.5" y2="545" stroke="#2a2a2a" stroke-width="0.75"/>
<line x1="518.5" y1="417.5" x2="518.5" y2="545" stroke="#2a2a2a" stroke-width="0.75"/>
<clipPath id="c6"><rect x="340.6" y="417.4" width="177.63" height="123"/></clipPath>
<g clip-path="url(#c6)"><path d="M340.6,540.4 L341.3,540.35 L342.01,540.19 L342.71,539.92 L343.41,539.55 L344.12,539.07 L344.82,538.48 L345.53,537.79 L346.23,536.99 L346.93,536.08 L347.64,535.07 L348.34,533.95 L349.04,532.73 L349.75,531.39 L350.45,529.95 L351.15,528.41 L351.86,526.76 L352.56,525 L353.27,523.13 L353.97,521.16 L354.67,519.08 L355.38,516.9 L356.08,514.6 L356.78,512.21 L357.49,509.7 L358.19,507.09 L358.89,504.37 L359.6,501.55 L360.3,498.61 L361.01,495.58 L361.71,492.43 L362.41,489.18 L363.12,485.82 L363.82,482.36 L364.52,478.79 L365.23,475.11 L365.93,471.33 L366.63,467.43 L367.34,463.44 L368.04,459.33 L368.75,455.12 L369.45,450.81 L370.15,446.38 L370.86,441.85 L371.56,437.21 L372.26,432.47 L372.97,427.62 L373.67,422.66 L374.37,417.6 L375.08,412.43" fill="none" stroke="#3a3a3a" stroke-width="0.6"/><path d="M340.6,540.4 L341.98,540.35 L343.37,540.19 L344.75,539.92 L346.14,539.55 L347.52,539.07 L348.91,538.48 L350.29,537.79 L351.68,536.99 L353.06,536.08 L354.45,535.07 L355.83,533.95 L357.22,532.73 L358.6,531.39 L359.99,529.95 L361.37,528.41 L362.76,526.76 L364.14,525 L365.53,523.13 L366.91,521.16 L368.3,519.08 L369.68,516.9 L371.07,514.6 L372.45,512.21 L373.84,509.7 L375.22,507.09 L376.61,504.37 L377.99,501.55 L379.38,498.61 L380.76,495.58 L382.15,492.43 L383.53,489.18 L384.92,485.82 L386.3,482.36 L387.69,478.79 L389.07,475.11 L390.46,471.33 L391.84,467.43 L393.23,463.44 L394.61,459.33 L395.99,455.12 L397.38,450.81 L398.76,446.38 L400.15,441.85 L401.53,437.21 L402.92,432.47 L404.3,427.62 L405.69,422.66 L407.07,417.6 L408.46,412.43" fill="none" stroke="#3a3a3a" stroke-width="0.6"/><path d="M340.6,540.4 L342.59,540.35 L344.57,540.19 L346.56,539.92 L348.54,539.55 L350.53,539.07 L352.52,538.48 L354.5,537.79 L356.49,536.99 L358.47,536.08 L360.46,535.07 L362.45,533.95 L364.43,532.73 L366.42,531.39 L368.4,529.95 L370.39,528.41 L372.38,526.76 L374.36,525 L376.35,523.13 L378.33,521.16 L380.32,519.08 L382.31,516.9 L384.29,514.6 L386.28,512.21 L388.27,509.7 L390.25,507.09 L392.24,504.37 L394.22,501.55 L396.21,498.61 L398.2,495.58 L400.18,492.43 L402.17,489.18 L404.15,485.82 L406.14,482.36 L408.13,478.79 L410.11,475.11 L412.1,471.33 L414.08,467.43 L416.07,463.44 L418.06,459.33 L420.04,455.12 L422.03,450.81 L424.01,446.38 L426,441.85 L427.99,437.21 L429.97,432.47 L431.96,427.62 L433.94,422.66 L435.93,417.6 L437.92,412.43" fill="none" stroke="#3a3a3a" stroke-width="0.6"/><path d="M340.6,540.4 L343.39,540.35 L346.18,540.19 L348.97,539.92 L351.76,539.55 L354.55,539.07 L357.34,538.48 L360.13,537.79 L362.92,536.99 L365.71,536.08 L368.5,535.07 L371.29,533.95 L374.08,532.73 L376.87,531.39 L379.66,529.95 L382.45,528.41 L385.24,526.76 L388.03,525 L390.82,523.13 L393.61,521.16 L396.4,519.08 L399.19,516.9 L401.98,514.6 L404.77,512.21 L407.56,509.7 L410.35,507.09 L413.14,504.37 L415.93,501.55 L418.72,498.61 L421.51,495.58 L424.3,492.43 L427.1,489.18 L429.89,485.82 L432.68,482.36 L435.47,478.79 L438.26,475.11 L441.05,471.33 L443.84,467.43 L446.63,463.44 L449.42,459.33 L452.21,455.12 L455,450.81 L457.79,446.38 L460.58,441.85 L463.37,437.21 L466.16,432.47 L468.95,427.62 L471.74,422.66 L474.53,417.6 L477.32,412.43" fill="none" stroke="#3a3a3a" stroke-width="0.6"/><path d="M340.6,540.4 L344.29,540.35 L347.98,540.19 L351.66,539.92 L355.35,539.55 L359.04,539.07 L362.73,538.48 L366.42,537.79 L370.1,536.99 L373.79,536.08 L377.48,535.07 L381.17,533.95 L384.86,532.73 L388.54,531.39 L392.23,529.95 L395.92,528.41 L399.61,526.76 L403.3,525 L406.98,523.13 L410.67,521.16 L414.36,519.08 L418.05,516.9 L421.74,514.6 L425.42,512.21 L429.11,509.7 L432.8,507.09 L436.49,504.37 L440.18,501.55 L443.86,498.61 L447.55,495.58 L451.24,492.43 L454.93,489.18 L458.62,485.82 L462.3,482.36 L465.99,478.79 L469.68,475.11 L473.37,471.33 L477.06,467.43 L480.74,463.44 L484.43,459.33 L488.12,455.12 L491.81,450.81 L495.5,446.38 L499.18,441.85 L502.87,437.21 L506.56,432.47 L510.25,427.62 L513.94,422.66 L517.62,417.6 L521.31,412.43" fill="none" stroke="#3a3a3a" stroke-width="0.6"/><path d="M340.6,540.4 L344.3,540.37 L348,540.28 L351.69,540.14 L355.39,539.94 L359.09,539.68 L362.79,539.36 L366.48,538.98 L370.18,538.55 L373.88,538.06 L377.58,537.51 L381.27,536.9 L384.97,536.23 L388.67,535.51 L392.37,534.73 L396.06,533.89 L399.76,532.99 L403.46,532.04 L407.16,531.02 L410.86,529.95 L414.55,528.82 L418.25,527.64 L421.95,526.39 L425.65,525.09 L429.34,523.73 L433.04,522.31 L436.74,520.83 L440.44,519.3 L444.13,517.71 L447.83,516.06 L451.53,514.35 L455.23,512.58 L458.92,510.76 L462.62,508.88 L466.32,506.94 L470.02,504.94 L473.72,502.89 L477.41,500.78 L481.11,498.6 L484.81,496.38 L488.51,494.09 L492.2,491.74 L495.9,489.34 L499.6,486.88 L503.3,484.36 L506.99,481.79 L510.69,479.15 L514.39,476.46 L518.09,473.71 L521.78,470.91" fill="none" stroke="#3a3a3a" stroke-width="0.6"/><path d="M340.6,540.4 L344.3,540.39 L348,540.34 L351.69,540.27 L355.39,540.17 L359.09,540.04 L362.79,539.88 L366.48,539.69 L370.18,539.47 L373.88,539.22 L377.58,538.95 L381.27,538.64 L384.97,538.31 L388.67,537.94 L392.37,537.55 L396.06,537.13 L399.76,536.68 L403.46,536.2 L407.16,535.69 L410.86,535.15 L414.55,534.59 L418.25,533.99 L421.95,533.37 L425.65,532.71 L429.34,532.03 L433.04,531.32 L436.74,530.58 L440.44,529.8 L444.13,529.01 L447.83,528.18 L451.53,527.32 L455.23,526.43 L458.92,525.52 L462.62,524.57 L466.32,523.6 L470.02,522.6 L473.72,521.56 L477.41,520.5 L481.11,519.41 L484.81,518.29 L488.51,517.15 L492.2,515.97 L495.9,514.76 L499.6,513.53 L503.3,512.26 L506.99,510.97 L510.69,509.65 L514.39,508.3 L518.09,506.91 L521.78,505.5" fill="none" stroke="#3a3a3a" stroke-width="0.6"/></g>
<g clip-path="url(#c6)"><path d="M340.6,424.11 L343.62,425.15 L346.64,426.06 L349.65,426.87 L352.67,427.59 L355.69,428.24 L358.71,428.85 L361.73,429.42 L364.75,429.96 L367.76,430.5 L370.78,431.04 L373.8,431.59 L376.82,432.17 L379.84,432.77 L382.86,433.41 L385.87,434.08 L388.89,434.8 L391.91,435.57 L394.93,436.39 L397.95,437.27 L400.97,438.2 L403.98,439.18 L407,440.22 L410.02,441.32 L413.04,442.47 L416.06,443.67 L419.08,444.93 L422.09,446.23 L425.11,447.59 L428.13,448.99 L431.15,450.44 L434.17,451.93 L437.19,453.46 L440.2,455.03 L443.22,456.63 L446.24,458.27 L449.26,459.95 L452.28,461.65 L455.3,463.39 L458.31,465.17 L461.33,466.97 L464.35,468.81 L467.37,470.69 L470.39,472.6 L473.41,474.56 L476.42,476.57 L479.44,478.62 L482.46,480.74 L485.48,482.91 L488.5,485.16 L491.52,487.5 L494.53,489.92 L497.55,492.46 L500.57,495.11 L503.59,497.89 L506.61,500.82 L509.63,503.92 L512.64,507.2 L515.66,510.69 L518.68,514.41" fill="none" stroke="#222" stroke-width="0.8"/><path d="M375.88,431.99 L377.93,432.38 L379.97,432.8 L382.02,433.22 L384.07,433.67 L386.11,434.14 L388.16,434.62 L390.2,435.13 L392.25,435.66 L394.3,436.22 L396.34,436.8 L398.39,437.4 L400.44,438.03 L402.48,438.68 L404.53,439.36 L406.58,440.07 L408.62,440.8 L410.67,441.56 L412.71,442.34 L414.76,443.15 L416.81,443.98 L418.85,444.83 L420.9,445.71 L422.95,446.61 L424.99,447.53 L427.04,448.48 L429.09,449.44 L431.13,450.43 L433.18,451.43 L435.22,452.46 L437.27,453.5 L439.32,454.56 L441.36,455.64 L443.41,456.73 L445.46,457.84 L447.5,458.97 L449.55,460.11 L451.6,461.26 L453.64,462.44 L455.69,463.62 L457.73,464.82 L459.78,466.04 L461.83,467.27 L463.87,468.52 L465.92,469.78 L467.97,471.07 L470.01,472.36 L472.06,473.68 L474.11,475.02 L476.15,476.38 L478.2,477.77 L480.25,479.18 L482.29,480.62 L484.34,482.08 L486.38,483.58 L488.43,485.11 L490.48,486.69 L492.52,488.3 L494.57,489.95 L496.62,491.66" fill="none" stroke="#7b2a12" stroke-width="2.8" stroke-linecap="butt"/><path d="M340.6,446.89 L343.44,447.55 L346.28,448.23 L349.13,448.91 L351.97,449.6 L354.81,450.3 L357.65,451.01 L360.49,451.73 L363.33,452.46 L366.18,453.2 L369.02,453.94 L371.86,454.69 L374.7,455.45 L377.54,456.22 L380.38,456.99 L383.23,457.77 L386.07,458.56 L388.91,459.36 L391.75,460.16 L394.59,460.99 L397.44,461.82 L400.28,462.67 L403.12,463.53 L405.96,464.41 L408.8,465.31 L411.64,466.22 L414.49,467.14 L417.33,468.08 L420.17,469.05 L423.01,470.07 L425.85,471.13 L428.69,472.25 L431.54,473.45 L434.38,474.73 L437.22,476.06 L440.06,477.45 L442.9,478.89 L445.75,480.36 L448.59,481.86 L451.43,483.38 L454.27,484.93 L457.11,486.52 L459.95,488.15 L462.8,489.84 L465.64,491.6 L468.48,493.43 L471.32,495.32 L474.16,497.21 L477,499.13 L479.85,501.12 L482.69,503.23 L485.53,505.49 L488.37,507.96 L491.21,510.68 L494.06,513.86 L496.9,517.94 L499.74,522.4 L502.58,527.45 L505.42,533.42 L508.26,540.4" fill="none" stroke="#222" stroke-width="0.8"/><path d="M380.02,456.89 L381.93,457.41 L383.84,457.94 L385.74,458.47 L387.65,459 L389.55,459.54 L391.46,460.08 L393.37,460.63 L395.27,461.18 L397.18,461.74 L399.08,462.31 L400.99,462.88 L402.89,463.46 L404.8,464.05 L406.71,464.65 L408.61,465.25 L410.52,465.86 L412.42,466.47 L414.33,467.09 L416.24,467.72 L418.14,468.36 L420.05,469.01 L421.95,469.68 L423.86,470.38 L425.77,471.1 L427.67,471.84 L429.58,472.62 L431.48,473.43 L433.39,474.27 L435.3,475.15 L437.2,476.05 L439.11,476.98 L441.01,477.93 L442.92,478.9 L444.82,479.88 L446.73,480.88 L448.64,481.89 L450.54,482.91 L452.45,483.93 L454.35,484.98 L456.26,486.04 L458.17,487.12 L460.07,488.22 L461.98,489.35 L463.88,490.51 L465.79,491.69 L467.7,492.91 L469.6,494.17 L471.51,495.44 L473.41,496.71 L475.32,497.99 L477.22,499.28 L479.13,500.61 L481.04,501.99 L482.94,503.42 L484.85,504.93 L486.75,506.53 L488.66,508.23 L490.57,510.04 L492.47,511.98" fill="none" stroke="#7b2a12" stroke-width="2.8" stroke-linecap="butt"/><path d="M340.6,466.95 L343.13,467.03 L345.66,467.15 L348.2,467.32 L350.73,467.54 L353.26,467.8 L355.79,468.09 L358.33,468.42 L360.86,468.78 L363.39,469.16 L365.92,469.57 L368.46,470 L370.99,470.45 L373.52,470.91 L376.05,471.38 L378.59,471.86 L381.12,472.36 L383.65,472.95 L386.18,473.64 L388.71,474.41 L391.25,475.24 L393.78,476.12 L396.31,477.03 L398.84,477.97 L401.38,478.9 L403.91,479.83 L406.44,480.72 L408.97,481.58 L411.51,482.4 L414.04,483.19 L416.57,483.98 L419.1,484.78 L421.63,485.61 L424.17,486.48 L426.7,487.4 L429.23,488.4 L431.76,489.47 L434.3,490.6 L436.83,491.79 L439.36,493.04 L441.89,494.34 L444.43,495.69 L446.96,497.08 L449.49,498.5 L452.02,499.97 L454.56,501.48 L457.09,503.06 L459.62,504.7 L462.15,506.42 L464.68,508.21 L467.22,510.08 L469.75,512.04 L472.28,514.25 L474.81,516.59 L477.35,519.03 L479.88,521.79 L482.41,524.97 L484.94,528.73 L487.48,533.51 L490.01,540.4" fill="none" stroke="#222" stroke-width="0.8"/><path d="M379.24,471.98 L380.83,472.3 L382.41,472.65 L384,473.04 L385.58,473.47 L387.17,473.93 L388.75,474.42 L390.34,474.93 L391.92,475.47 L393.51,476.02 L395.09,476.59 L396.68,477.17 L398.26,477.75 L399.85,478.34 L401.43,478.92 L403.02,479.5 L404.6,480.08 L406.19,480.64 L407.77,481.18 L409.36,481.71 L410.94,482.22 L412.53,482.72 L414.11,483.22 L415.7,483.71 L417.28,484.21 L418.87,484.71 L420.45,485.22 L422.04,485.75 L423.62,486.29 L425.21,486.85 L426.79,487.44 L428.38,488.06 L429.96,488.7 L431.55,489.38 L433.13,490.07 L434.72,490.8 L436.3,491.54 L437.89,492.31 L439.47,493.1 L441.06,493.91 L442.64,494.74 L444.23,495.58 L445.81,496.45 L447.4,497.32 L448.98,498.22 L450.57,499.12 L452.15,500.04 L453.74,500.99 L455.32,501.95 L456.91,502.94 L458.49,503.96 L460.08,505.01 L461.66,506.08 L463.25,507.18 L464.83,508.32 L466.42,509.48 L468,510.68 L469.59,511.91 L471.17,513.24 L472.76,514.69" fill="none" stroke="#7b2a12" stroke-width="2.8" stroke-linecap="butt"/></g>
<rect x="405" y="430" width="35" height="8.2" fill="#fff"/>
<text x="406.7" y="436.7" font-size="7.2" textLength="31.8" lengthAdjust="spacingAndGlyphs" fill="#111" stroke="#111" stroke-width="0.2">UPF 50-200</text>
<rect x="375.5" y="446" width="36" height="8.5" fill="#fff"/>
<text x="377.0" y="452.8" font-size="7.2" textLength="32.8" lengthAdjust="spacingAndGlyphs" fill="#111" stroke="#111" stroke-width="0.2">UPF 40-160</text>
<rect x="366" y="482.5" width="35" height="8" fill="#fff"/>
<text x="367.3" y="489.2" font-size="7.2" textLength="32.6" lengthAdjust="spacingAndGlyphs" fill="#111" stroke="#111" stroke-width="0.2">UPF 40-120</text>
<text x="333.6" y="543.16" font-size="7.5" text-anchor="end" fill="#111" stroke="#111" stroke-width="0.2">0</text>
<text x="333.6" y="520.66" font-size="7.5" text-anchor="end" fill="#111" stroke="#111" stroke-width="0.2">4</text>
<text x="333.6" y="498.16" font-size="7.5" text-anchor="end" fill="#111" stroke="#111" stroke-width="0.2">8</text>
<text x="333.6" y="475.41" font-size="7.5" textLength="7.51" lengthAdjust="spacingAndGlyphs" text-anchor="end" fill="#111" stroke="#111" stroke-width="0.2">12</text>
<text x="333.6" y="453.16" font-size="7.5" textLength="7.51" lengthAdjust="spacingAndGlyphs" text-anchor="end" fill="#111" stroke="#111" stroke-width="0.2">16</text>
<text x="333.6" y="430.16" font-size="7.5" textLength="7.51" lengthAdjust="spacingAndGlyphs" text-anchor="end" fill="#111" stroke="#111" stroke-width="0.2">20</text>
<text x="340.6" y="553.4" font-size="7.5" text-anchor="middle" fill="#111" stroke="#111" stroke-width="0.2">0</text>
<text x="363" y="553.4" font-size="7.5" text-anchor="middle" fill="#111" stroke="#111" stroke-width="0.2">2</text>
<text x="385.4" y="553.4" font-size="7.5" text-anchor="middle" fill="#111" stroke="#111" stroke-width="0.2">4</text>
<text x="407.8" y="553.4" font-size="7.5" text-anchor="middle" fill="#111" stroke="#111" stroke-width="0.2">6</text>
<text x="430.2" y="553.4" font-size="7.5" text-anchor="middle" fill="#111" stroke="#111" stroke-width="0.2">8</text>
<text x="452.6" y="553.4" font-size="7.5" textLength="7.51" lengthAdjust="spacingAndGlyphs" text-anchor="middle" fill="#111" stroke="#111" stroke-width="0.2">10</text>
<text x="475" y="553.4" font-size="7.5" textLength="7.51" lengthAdjust="spacingAndGlyphs" text-anchor="middle" fill="#111" stroke="#111" stroke-width="0.2">12</text>
<text x="497.4" y="553.4" font-size="7.5" textLength="7.51" lengthAdjust="spacingAndGlyphs" text-anchor="middle" fill="#111" stroke="#111" stroke-width="0.2">14</text>
<text x="333.0" y="416.8" font-size="7.4" text-anchor="end" fill="#111" stroke="#111" stroke-width="0.2">H(m)</text>
<text x="505.9" y="553.6" font-size="7.9" fill="#111" stroke="#111" stroke-width="0.2">Q(m³/h)</text>
<line x1="102.5" y1="670.5" x2="284.5" y2="670.5" stroke="#2a2a2a" stroke-width="0.75"/>
<line x1="102.5" y1="646.25" x2="284.5" y2="646.25" stroke="#2a2a2a" stroke-width="0.75"/>
<line x1="102.5" y1="622.5" x2="284.5" y2="622.5" stroke="#2a2a2a" stroke-width="0.75"/>
<line x1="102.5" y1="597.5" x2="284.5" y2="597.5" stroke="#2a2a2a" stroke-width="0.75"/>
<line x1="142.5" y1="571.25" x2="142.5" y2="700" stroke="#2a2a2a" stroke-width="0.75"/>
<line x1="177.75" y1="571.25" x2="177.75" y2="700" stroke="#2a2a2a" stroke-width="0.75"/>
<line x1="213.75" y1="571.25" x2="213.75" y2="700" stroke="#2a2a2a" stroke-width="0.75"/>
<line x1="249.5" y1="571.25" x2="249.5" y2="700" stroke="#2a2a2a" stroke-width="0.75"/>
<line x1="102.5" y1="571.25" x2="284.5" y2="571.25" stroke="#2a2a2a" stroke-width="0.75"/>
<line x1="102.5" y1="695.5" x2="284.5" y2="695.5" stroke="#2a2a2a" stroke-width="0.75"/>
<line x1="106.5" y1="571.25" x2="106.5" y2="700" stroke="#2a2a2a" stroke-width="0.75"/>
<line x1="284.5" y1="571.25" x2="284.5" y2="700" stroke="#2a2a2a" stroke-width="0.75"/>
<clipPath id="c7"><rect x="106.5" y="571.48" width="178" height="123.52"/></clipPath>
<g clip-path="url(#c7)"><path d="M106.5,695 L107.21,694.95 L107.91,694.79 L108.62,694.52 L109.32,694.14 L110.03,693.66 L110.73,693.07 L111.44,692.38 L112.14,691.57 L112.85,690.66 L113.55,689.65 L114.26,688.52 L114.96,687.29 L115.67,685.95 L116.37,684.51 L117.08,682.96 L117.78,681.3 L118.49,679.53 L119.19,677.66 L119.9,675.68 L120.61,673.59 L121.31,671.4 L122.02,669.09 L122.72,666.68 L123.43,664.17 L124.13,661.55 L124.84,658.82 L125.54,655.98 L126.25,653.04 L126.95,649.98 L127.66,646.83 L128.36,643.56 L129.07,640.19 L129.77,636.71 L130.48,633.12 L131.18,629.43 L131.89,625.63 L132.59,621.72 L133.3,617.71 L134,613.59 L134.71,609.36 L135.42,605.02 L136.12,600.58 L136.83,596.03 L137.53,591.37 L138.24,586.61 L138.94,581.74 L139.65,576.76 L140.35,571.68 L141.06,566.48" fill="none" stroke="#3a3a3a" stroke-width="0.6"/><path d="M106.5,695 L107.84,694.95 L109.18,694.79 L110.52,694.52 L111.86,694.14 L113.2,693.66 L114.54,693.07 L115.87,692.38 L117.21,691.57 L118.55,690.66 L119.89,689.65 L121.23,688.52 L122.57,687.29 L123.91,685.95 L125.25,684.51 L126.59,682.96 L127.93,681.3 L129.27,679.53 L130.61,677.66 L131.95,675.68 L133.29,673.59 L134.62,671.4 L135.96,669.09 L137.3,666.68 L138.64,664.17 L139.98,661.55 L141.32,658.82 L142.66,655.98 L144,653.04 L145.34,649.98 L146.68,646.83 L148.02,643.56 L149.36,640.19 L150.7,636.71 L152.03,633.12 L153.37,629.43 L154.71,625.63 L156.05,621.72 L157.39,617.71 L158.73,613.59 L160.07,609.36 L161.41,605.02 L162.75,600.58 L164.09,596.03 L165.43,591.37 L166.77,586.61 L168.11,581.74 L169.45,576.76 L170.78,571.68 L172.12,566.48" fill="none" stroke="#3a3a3a" stroke-width="0.6"/><path d="M106.5,695 L108.42,694.95 L110.33,694.79 L112.25,694.52 L114.16,694.14 L116.08,693.66 L118,693.07 L119.91,692.38 L121.83,691.57 L123.75,690.66 L125.66,689.65 L127.58,688.52 L129.49,687.29 L131.41,685.95 L133.33,684.51 L135.24,682.96 L137.16,681.3 L139.08,679.53 L140.99,677.66 L142.91,675.68 L144.82,673.59 L146.74,671.4 L148.66,669.09 L150.57,666.68 L152.49,664.17 L154.4,661.55 L156.32,658.82 L158.24,655.98 L160.15,653.04 L162.07,649.98 L163.99,646.83 L165.9,643.56 L167.82,640.19 L169.73,636.71 L171.65,633.12 L173.57,629.43 L175.48,625.63 L177.4,621.72 L179.32,617.71 L181.23,613.59 L183.15,609.36 L185.06,605.02 L186.98,600.58 L188.9,596.03 L190.81,591.37 L192.73,586.61 L194.64,581.74 L196.56,576.76 L198.48,571.68 L200.39,566.48" fill="none" stroke="#3a3a3a" stroke-width="0.6"/><path d="M106.5,695 L109.19,694.95 L111.88,694.79 L114.57,694.52 L117.26,694.14 L119.94,693.66 L122.63,693.07 L125.32,692.38 L128.01,691.57 L130.7,690.66 L133.39,689.65 L136.08,688.52 L138.77,687.29 L141.46,685.95 L144.14,684.51 L146.83,682.96 L149.52,681.3 L152.21,679.53 L154.9,677.66 L157.59,675.68 L160.28,673.59 L162.97,671.4 L165.65,669.09 L168.34,666.68 L171.03,664.17 L173.72,661.55 L176.41,658.82 L179.1,655.98 L181.79,653.04 L184.48,649.98 L187.17,646.83 L189.85,643.56 L192.54,640.19 L195.23,636.71 L197.92,633.12 L200.61,629.43 L203.3,625.63 L205.99,621.72 L208.68,617.71 L211.37,613.59 L214.05,609.36 L216.74,605.02 L219.43,600.58 L222.12,596.03 L224.81,591.37 L227.5,586.61 L230.19,581.74 L232.88,576.76 L235.57,571.68 L238.25,566.48" fill="none" stroke="#3a3a3a" stroke-width="0.6"/><path d="M106.5,695 L110.05,694.95 L113.6,694.79 L117.15,694.52 L120.71,694.14 L124.26,693.66 L127.81,693.07 L131.36,692.38 L134.91,691.57 L138.46,690.66 L142.02,689.65 L145.57,688.52 L149.12,687.29 L152.67,685.95 L156.22,684.51 L159.77,682.96 L163.32,681.3 L166.88,679.53 L170.43,677.66 L173.98,675.68 L177.53,673.59 L181.08,671.4 L184.63,669.09 L188.19,666.68 L191.74,664.17 L195.29,661.55 L198.84,658.82 L202.39,655.98 L205.94,653.04 L209.49,649.98 L213.05,646.83 L216.6,643.56 L220.15,640.19 L223.7,636.71 L227.25,633.12 L230.8,629.43 L234.36,625.63 L237.91,621.72 L241.46,617.71 L245.01,613.59 L248.56,609.36 L252.11,605.02 L255.66,600.58 L259.22,596.03 L262.77,591.37 L266.32,586.61 L269.87,581.74 L273.42,576.76 L276.97,571.68 L280.53,566.48" fill="none" stroke="#3a3a3a" stroke-width="0.6"/><path d="M106.5,695 L110.21,694.97 L113.91,694.88 L117.62,694.72 L121.32,694.5 L125.03,694.22 L128.73,693.88 L132.44,693.47 L136.14,693 L139.85,692.47 L143.55,691.88 L147.26,691.22 L150.96,690.5 L154.67,689.72 L158.37,688.88 L162.08,687.97 L165.78,687.01 L169.49,685.98 L173.19,684.88 L176.9,683.73 L180.6,682.51 L184.31,681.23 L188.01,679.89 L191.72,678.48 L195.43,677.01 L199.13,675.48 L202.84,673.89 L206.54,672.24 L210.25,670.52 L213.95,668.74 L217.66,666.9 L221.36,664.99 L225.07,663.03 L228.77,661 L232.48,658.9 L236.18,656.75 L239.89,654.53 L243.59,652.25 L247.3,649.91 L251,647.51 L254.71,645.04 L258.41,642.51 L262.12,639.92 L265.82,637.27 L269.53,634.55 L273.23,631.77 L276.94,628.93 L280.64,626.02 L284.35,623.06 L288.06,620.03" fill="none" stroke="#3a3a3a" stroke-width="0.6"/><path d="M106.5,695 L110.21,694.99 L113.91,694.94 L117.62,694.87 L121.32,694.76 L125.03,694.63 L128.73,694.46 L132.44,694.27 L136.14,694.04 L139.85,693.79 L143.55,693.5 L147.26,693.19 L150.96,692.84 L154.67,692.47 L158.37,692.06 L162.08,691.63 L165.78,691.16 L169.49,690.67 L173.19,690.15 L176.9,689.59 L180.6,689.01 L184.31,688.39 L188.01,687.75 L191.72,687.07 L195.43,686.37 L199.13,685.64 L202.84,684.87 L206.54,684.08 L210.25,683.25 L213.95,682.4 L217.66,681.51 L221.36,680.6 L225.07,679.66 L228.77,678.68 L232.48,677.68 L236.18,676.65 L239.89,675.58 L243.59,674.49 L247.3,673.36 L251,672.21 L254.71,671.03 L258.41,669.81 L262.12,668.57 L265.82,667.3 L269.53,665.99 L273.23,664.66 L276.94,663.29 L280.64,661.9 L284.35,660.48 L288.06,659.02" fill="none" stroke="#3a3a3a" stroke-width="0.6"/></g>
<g clip-path="url(#c7)"><path d="M106.5,592.19 L109.53,592.26 L112.56,592.4 L115.59,592.61 L118.62,592.87 L121.65,593.18 L124.68,593.54 L127.71,593.93 L130.74,594.35 L133.77,594.8 L136.81,595.28 L139.84,595.78 L142.87,596.29 L145.9,596.82 L148.93,597.37 L151.96,597.94 L154.99,598.52 L158.02,599.12 L161.05,599.73 L164.08,600.36 L167.11,601.01 L170.14,601.69 L173.17,602.38 L176.2,603.11 L179.23,603.86 L182.26,604.65 L185.29,605.47 L188.32,606.33 L191.35,607.23 L194.38,608.17 L197.42,609.16 L200.45,610.21 L203.48,611.3 L206.51,612.46 L209.54,613.67 L212.57,614.95 L215.6,616.3 L218.63,617.71 L221.66,619.19 L224.69,620.74 L227.72,622.36 L230.75,624.06 L233.78,625.82 L236.81,627.67 L239.84,629.58 L242.87,631.57 L245.9,633.63 L248.93,635.75 L251.96,637.94 L254.99,640.19 L258.03,642.5 L261.06,644.86 L264.09,647.26 L267.12,649.71 L270.15,652.18 L273.18,654.68 L276.21,657.19 L279.24,659.71 L282.27,662.21 L285.3,664.7" fill="none" stroke="#222" stroke-width="0.8"/><path d="M136.99,595.31 L139.13,595.66 L141.28,596.02 L143.43,596.39 L145.57,596.77 L147.72,597.15 L149.87,597.55 L152.02,597.95 L154.16,598.36 L156.31,598.78 L158.46,599.2 L160.6,599.64 L162.75,600.08 L164.9,600.53 L167.05,601 L169.19,601.47 L171.34,601.96 L173.49,602.46 L175.63,602.97 L177.78,603.5 L179.93,604.04 L182.07,604.6 L184.22,605.17 L186.37,605.77 L188.52,606.38 L190.66,607.02 L192.81,607.67 L194.96,608.35 L197.1,609.06 L199.25,609.79 L201.4,610.55 L203.55,611.33 L205.69,612.14 L207.84,612.99 L209.99,613.86 L212.13,614.77 L214.28,615.7 L216.43,616.68 L218.58,617.68 L220.72,618.72 L222.87,619.8 L225.02,620.91 L227.16,622.06 L229.31,623.24 L231.46,624.46 L233.61,625.72 L235.75,627.01 L237.9,628.35 L240.05,629.71 L242.19,631.12 L244.34,632.56 L246.49,634.03 L248.64,635.54 L250.78,637.08 L252.93,638.65 L255.08,640.25 L257.22,641.88 L259.37,643.54 L261.52,645.22 L263.67,646.93" fill="none" stroke="#7b2a12" stroke-width="2.8" stroke-linecap="butt"/><path d="M106.5,619.37 L109.4,619.68 L112.3,620 L115.21,620.34 L118.11,620.69 L121.01,621.05 L123.91,621.43 L126.81,621.82 L129.71,622.23 L132.62,622.66 L135.52,623.11 L138.42,623.58 L141.32,624.08 L144.22,624.6 L147.12,625.14 L150.03,625.71 L152.93,626.31 L155.83,626.93 L158.73,627.59 L161.63,628.28 L164.53,628.99 L167.44,629.75 L170.34,630.53 L173.24,631.36 L176.14,632.22 L179.04,633.12 L181.94,634.05 L184.85,635.03 L187.75,636.05 L190.65,637.12 L193.55,638.23 L196.45,639.38 L199.35,640.58 L202.26,641.83 L205.16,643.13 L208.06,644.48 L210.96,645.88 L213.86,647.34 L216.77,648.84 L219.67,650.41 L222.57,652.03 L225.47,653.71 L228.37,655.44 L231.27,657.24 L234.18,659.1 L237.08,661.02 L239.98,663.01 L242.88,665.06 L245.78,667.17 L248.68,669.36 L251.59,671.61 L254.49,673.93 L257.39,676.33 L260.29,678.79 L263.19,681.33 L266.09,683.95 L269,686.64 L271.9,689.41 L274.8,692.25 L277.7,695.18" fill="none" stroke="#222" stroke-width="0.8"/><path d="M133.32,622.77 L135.18,623.06 L137.05,623.36 L138.91,623.67 L140.78,623.98 L142.64,624.31 L144.5,624.65 L146.37,625 L148.23,625.35 L150.09,625.72 L151.96,626.1 L153.82,626.5 L155.69,626.9 L157.55,627.32 L159.41,627.75 L161.28,628.19 L163.14,628.64 L165,629.11 L166.87,629.6 L168.73,630.09 L170.6,630.61 L172.46,631.13 L174.32,631.67 L176.19,632.23 L178.05,632.8 L179.91,633.39 L181.78,634 L183.64,634.62 L185.51,635.26 L187.37,635.92 L189.23,636.59 L191.1,637.29 L192.96,638 L194.82,638.73 L196.69,639.48 L198.55,640.25 L200.42,641.03 L202.28,641.84 L204.14,642.67 L206.01,643.52 L207.87,644.39 L209.73,645.28 L211.6,646.2 L213.46,647.13 L215.33,648.09 L217.19,649.07 L219.05,650.07 L220.92,651.1 L222.78,652.15 L224.64,653.22 L226.51,654.32 L228.37,655.44 L230.24,656.59 L232.1,657.76 L233.96,658.96 L235.83,660.18 L237.69,661.43 L239.55,662.71 L241.42,664.01 L243.28,665.34" fill="none" stroke="#7b2a12" stroke-width="2.8" stroke-linecap="butt"/></g>
<rect x="229" y="610.5" width="36" height="10" fill="#fff"/>
<text x="230.7" y="618.3" font-size="7.2" textLength="33" lengthAdjust="spacingAndGlyphs" fill="#111" stroke="#111" stroke-width="0.2">UPF 50-160</text>
<rect x="188" y="658.5" width="36" height="10" fill="#fff"/>
<text x="189.8" y="666.4" font-size="7.2" textLength="32.9" lengthAdjust="spacingAndGlyphs" fill="#111" stroke="#111" stroke-width="0.2">UPF 50-120</text>
<text x="99.5" y="698.16" font-size="7.5" text-anchor="end" fill="#111" stroke="#111" stroke-width="0.2">0</text>
<text x="99.5" y="673.16" font-size="7.5" text-anchor="end" fill="#111" stroke="#111" stroke-width="0.2">4</text>
<text x="99.5" y="648.91" font-size="7.5" text-anchor="end" fill="#111" stroke="#111" stroke-width="0.2">8</text>
<text x="99.5" y="625.16" font-size="7.5" textLength="7.51" lengthAdjust="spacingAndGlyphs" text-anchor="end" fill="#111" stroke="#111" stroke-width="0.2">12</text>
<text x="99.5" y="600.16" font-size="7.5" textLength="7.51" lengthAdjust="spacingAndGlyphs" text-anchor="end" fill="#111" stroke="#111" stroke-width="0.2">16</text>
<text x="106.5" y="708" font-size="7.5" text-anchor="middle" fill="#111" stroke="#111" stroke-width="0.2">0</text>
<text x="142.26" y="708" font-size="7.5" text-anchor="middle" fill="#111" stroke="#111" stroke-width="0.2">4</text>
<text x="178.02" y="708" font-size="7.5" text-anchor="middle" fill="#111" stroke="#111" stroke-width="0.2">8</text>
<text x="213.78" y="708" font-size="7.5" textLength="7.51" lengthAdjust="spacingAndGlyphs" text-anchor="middle" fill="#111" stroke="#111" stroke-width="0.2">12</text>
<text x="249.54" y="708" font-size="7.5" textLength="7.51" lengthAdjust="spacingAndGlyphs" text-anchor="middle" fill="#111" stroke="#111" stroke-width="0.2">16</text>
<text x="99.5" y="577.0" font-size="7.4" text-anchor="end" fill="#111" stroke="#111" stroke-width="0.2">H(m)</text>
<text x="259.7" y="708.8" font-size="7.9" fill="#111" stroke="#111" stroke-width="0.2">Q(m³/h)</text>
<line x1="338" y1="679.5" x2="519.5" y2="679.5" stroke="#2a2a2a" stroke-width="0.75"/>
<line x1="338" y1="664.5" x2="519.5" y2="664.5" stroke="#2a2a2a" stroke-width="0.75"/>
<line x1="338" y1="649.5" x2="519.5" y2="649.5" stroke="#2a2a2a" stroke-width="0.75"/>
<line x1="338" y1="634" x2="519.5" y2="634" stroke="#2a2a2a" stroke-width="0.75"/>
<line x1="338" y1="618.5" x2="519.5" y2="618.5" stroke="#2a2a2a" stroke-width="0.75"/>
<line x1="338" y1="603.5" x2="519.5" y2="603.5" stroke="#2a2a2a" stroke-width="0.75"/>
<line x1="338" y1="588.5" x2="519.5" y2="588.5" stroke="#2a2a2a" stroke-width="0.75"/>
<line x1="364" y1="571.75" x2="364" y2="699.5" stroke="#2a2a2a" stroke-width="0.75"/>
<line x1="386.25" y1="571.75" x2="386.25" y2="699.5" stroke="#2a2a2a" stroke-width="0.75"/>
<line x1="408.5" y1="571.75" x2="408.5" y2="699.5" stroke="#2a2a2a" stroke-width="0.75"/>
<line x1="430.75" y1="571.75" x2="430.75" y2="699.5" stroke="#2a2a2a" stroke-width="0.75"/>
<line x1="452.5" y1="571.75" x2="452.5" y2="699.5" stroke="#2a2a2a" stroke-width="0.75"/>
<line x1="474.5" y1="571.75" x2="474.5" y2="699.5" stroke="#2a2a2a" stroke-width="0.75"/>
<line x1="496.5" y1="571.75" x2="496.5" y2="699.5" stroke="#2a2a2a" stroke-width="0.75"/>
<line x1="338" y1="571.75" x2="519.5" y2="571.75" stroke="#2a2a2a" stroke-width="0.75"/>
<line x1="338" y1="695" x2="519.5" y2="695" stroke="#2a2a2a" stroke-width="0.75"/>
<line x1="342" y1="571.75" x2="342" y2="699.5" stroke="#2a2a2a" stroke-width="0.75"/>
<line x1="519.5" y1="571.75" x2="519.5" y2="699.5" stroke="#2a2a2a" stroke-width="0.75"/>
<clipPath id="c8"><rect x="342" y="571.51" width="177.6" height="123.49"/></clipPath>
<g clip-path="url(#c8)"><path d="M342,695 L342.71,694.95 L343.43,694.79 L344.14,694.52 L344.85,694.14 L345.57,693.66 L346.28,693.07 L346.99,692.38 L347.7,691.58 L348.42,690.67 L349.13,689.65 L349.84,688.53 L350.56,687.29 L351.27,685.96 L351.98,684.51 L352.7,682.96 L353.41,681.3 L354.12,679.54 L354.84,677.66 L355.55,675.68 L356.26,673.6 L356.97,671.4 L357.69,669.1 L358.4,666.69 L359.11,664.18 L359.83,661.56 L360.54,658.83 L361.25,655.99 L361.97,653.05 L362.68,650 L363.39,646.84 L364.11,643.58 L364.82,640.21 L365.53,636.73 L366.25,633.14 L366.96,629.45 L367.67,625.65 L368.38,621.75 L369.1,617.73 L369.81,613.61 L370.52,609.39 L371.24,605.05 L371.95,600.61 L372.66,596.06 L373.38,591.41 L374.09,586.64 L374.8,581.77 L375.52,576.8 L376.23,571.71 L376.94,566.52" fill="none" stroke="#3a3a3a" stroke-width="0.6"/><path d="M342,695 L343.37,694.95 L344.75,694.79 L346.12,694.52 L347.49,694.14 L348.86,693.66 L350.24,693.07 L351.61,692.38 L352.98,691.58 L354.36,690.67 L355.73,689.65 L357.1,688.53 L358.48,687.29 L359.85,685.96 L361.22,684.51 L362.59,682.96 L363.97,681.3 L365.34,679.54 L366.71,677.66 L368.09,675.68 L369.46,673.6 L370.83,671.4 L372.21,669.1 L373.58,666.69 L374.95,664.18 L376.32,661.56 L377.7,658.83 L379.07,655.99 L380.44,653.05 L381.82,650 L383.19,646.84 L384.56,643.58 L385.93,640.21 L387.31,636.73 L388.68,633.14 L390.05,629.45 L391.43,625.65 L392.8,621.75 L394.17,617.73 L395.55,613.61 L396.92,609.39 L398.29,605.05 L399.66,600.61 L401.04,596.06 L402.41,591.41 L403.78,586.64 L405.16,581.77 L406.53,576.8 L407.9,571.71 L409.27,566.52" fill="none" stroke="#3a3a3a" stroke-width="0.6"/><path d="M342,695 L343.98,694.95 L345.97,694.79 L347.95,694.52 L349.94,694.14 L351.92,693.66 L353.9,693.07 L355.89,692.38 L357.87,691.58 L359.85,690.67 L361.84,689.65 L363.82,688.53 L365.81,687.29 L367.79,685.96 L369.77,684.51 L371.76,682.96 L373.74,681.3 L375.73,679.54 L377.71,677.66 L379.69,675.68 L381.68,673.6 L383.66,671.4 L385.65,669.1 L387.63,666.69 L389.61,664.18 L391.6,661.56 L393.58,658.83 L395.56,655.99 L397.55,653.05 L399.53,650 L401.52,646.84 L403.5,643.58 L405.48,640.21 L407.47,636.73 L409.45,633.14 L411.44,629.45 L413.42,625.65 L415.4,621.75 L417.39,617.73 L419.37,613.61 L421.35,609.39 L423.34,605.05 L425.32,600.61 L427.31,596.06 L429.29,591.41 L431.27,586.64 L433.26,581.77 L435.24,576.8 L437.23,571.71 L439.21,566.52" fill="none" stroke="#3a3a3a" stroke-width="0.6"/><path d="M342,695 L344.77,694.95 L347.53,694.79 L350.3,694.52 L353.06,694.14 L355.83,693.66 L358.59,693.07 L361.36,692.38 L364.12,691.58 L366.89,690.67 L369.65,689.65 L372.42,688.53 L375.18,687.29 L377.95,685.96 L380.72,684.51 L383.48,682.96 L386.25,681.3 L389.01,679.54 L391.78,677.66 L394.54,675.68 L397.31,673.6 L400.07,671.4 L402.84,669.1 L405.6,666.69 L408.37,664.18 L411.13,661.56 L413.9,658.83 L416.67,655.99 L419.43,653.05 L422.2,650 L424.96,646.84 L427.73,643.58 L430.49,640.21 L433.26,636.73 L436.02,633.14 L438.79,629.45 L441.55,625.65 L444.32,621.75 L447.08,617.73 L449.85,613.61 L452.62,609.39 L455.38,605.05 L458.15,600.61 L460.91,596.06 L463.68,591.41 L466.44,586.64 L469.21,581.77 L471.97,576.8 L474.74,571.71 L477.5,566.52" fill="none" stroke="#3a3a3a" stroke-width="0.6"/><path d="M342,695 L345.69,694.95 L349.38,694.79 L353.06,694.52 L356.75,694.14 L360.44,693.66 L364.13,693.07 L367.82,692.38 L371.5,691.58 L375.19,690.67 L378.88,689.65 L382.57,688.53 L386.26,687.29 L389.94,685.96 L393.63,684.51 L397.32,682.96 L401.01,681.3 L404.69,679.54 L408.38,677.66 L412.07,675.68 L415.76,673.6 L419.45,671.4 L423.13,669.1 L426.82,666.69 L430.51,664.18 L434.2,661.56 L437.89,658.83 L441.57,655.99 L445.26,653.05 L448.95,650 L452.64,646.84 L456.33,643.58 L460.01,640.21 L463.7,636.73 L467.39,633.14 L471.08,629.45 L474.77,625.65 L478.45,621.75 L482.14,617.73 L485.83,613.61 L489.52,609.39 L493.2,605.05 L496.89,600.61 L500.58,596.06 L504.27,591.41 L507.96,586.64 L511.64,581.77 L515.33,576.8 L519.02,571.71 L522.71,566.52" fill="none" stroke="#3a3a3a" stroke-width="0.6"/><path d="M342,695 L345.7,694.97 L349.39,694.88 L353.09,694.74 L356.79,694.53 L360.48,694.27 L364.18,693.95 L367.88,693.57 L371.58,693.13 L375.27,692.63 L378.97,692.07 L382.67,691.46 L386.36,690.79 L390.06,690.05 L393.76,689.26 L397.45,688.41 L401.15,687.51 L404.85,686.54 L408.55,685.52 L412.24,684.43 L415.94,683.29 L419.64,682.09 L423.33,680.83 L427.03,679.52 L430.73,678.14 L434.42,676.71 L438.12,675.21 L441.82,673.66 L445.52,672.05 L449.21,670.39 L452.91,668.66 L456.61,666.87 L460.3,665.03 L464,663.13 L467.7,661.17 L471.39,659.15 L475.09,657.07 L478.79,654.93 L482.49,652.74 L486.18,650.48 L489.88,648.17 L493.58,645.8 L497.27,643.37 L500.97,640.88 L504.67,638.34 L508.36,635.73 L512.06,633.07 L515.76,630.35 L519.46,627.57 L523.15,624.73" fill="none" stroke="#3a3a3a" stroke-width="0.6"/></g>
<g clip-path="url(#c8)"><path d="M342,598.45 L345.01,598.81 L348.02,599.19 L351.03,599.57 L354.04,599.97 L357.05,600.38 L360.06,600.8 L363.07,601.24 L366.08,601.7 L369.09,602.17 L372.1,602.66 L375.11,603.16 L378.12,603.69 L381.13,604.24 L384.14,604.8 L387.15,605.39 L390.16,606.01 L393.17,606.64 L396.18,607.3 L399.19,607.99 L402.2,608.7 L405.21,609.44 L408.22,610.21 L411.23,611.01 L414.24,611.83 L417.25,612.69 L420.26,613.58 L423.27,614.5 L426.28,615.46 L429.29,616.45 L432.31,617.47 L435.32,618.54 L438.33,619.64 L441.34,620.77 L444.35,621.95 L447.36,623.16 L450.37,624.42 L453.38,625.72 L456.39,627.06 L459.4,628.44 L462.41,629.87 L465.42,631.35 L468.43,632.87 L471.44,634.43 L474.45,636.05 L477.46,637.71 L480.47,639.42 L483.48,641.19 L486.49,643 L489.5,644.87 L492.51,646.79 L495.52,648.76 L498.53,650.79 L501.54,652.88 L504.55,655.02 L507.56,657.22 L510.57,659.48 L513.58,661.8 L516.59,664.18 L519.6,666.62" fill="none" stroke="#222" stroke-width="0.8"/><path d="M365.81,601.66 L367.94,601.99 L370.08,602.33 L372.21,602.68 L374.34,603.03 L376.48,603.4 L378.61,603.78 L380.74,604.17 L382.88,604.56 L385.01,604.97 L387.14,605.39 L389.28,605.82 L391.41,606.27 L393.54,606.72 L395.68,607.19 L397.81,607.67 L399.94,608.16 L402.08,608.67 L404.21,609.19 L406.35,609.73 L408.48,610.27 L410.61,610.84 L412.75,611.42 L414.88,612.01 L417.01,612.62 L419.15,613.25 L421.28,613.89 L423.41,614.55 L425.55,615.22 L427.68,615.91 L429.81,616.62 L431.95,617.35 L434.08,618.1 L436.21,618.86 L438.35,619.64 L440.48,620.45 L442.61,621.27 L444.75,622.11 L446.88,622.97 L449.01,623.85 L451.15,624.75 L453.28,625.68 L455.41,626.62 L457.55,627.59 L459.68,628.58 L461.82,629.59 L463.95,630.62 L466.08,631.68 L468.22,632.76 L470.35,633.86 L472.48,634.99 L474.62,636.14 L476.75,637.31 L478.88,638.51 L481.02,639.74 L483.15,640.99 L485.28,642.27 L487.42,643.57 L489.55,644.9 L491.68,646.26" fill="none" stroke="#7b2a12" stroke-width="2.8" stroke-linecap="butt"/><path d="M342,614.2 L345.01,614.42 L348.02,614.67 L351.03,614.98 L354.04,615.33 L357.05,615.72 L360.06,616.15 L363.07,616.63 L366.08,617.15 L369.09,617.71 L372.1,618.32 L375.11,618.96 L378.12,619.65 L381.13,620.38 L384.14,621.14 L387.15,621.95 L390.16,622.8 L393.17,623.68 L396.18,624.61 L399.19,625.57 L402.2,626.57 L405.21,627.61 L408.22,628.68 L411.23,629.79 L414.24,630.94 L417.25,632.12 L420.26,633.34 L423.27,634.6 L426.28,635.89 L429.29,637.21 L432.31,638.57 L435.32,639.96 L438.33,641.38 L441.34,642.84 L444.35,644.32 L447.36,645.84 L450.37,647.4 L453.38,648.98 L456.39,650.59 L459.4,652.24 L462.41,653.91 L465.42,655.62 L468.43,657.35 L471.44,659.11 L474.45,660.9 L477.46,662.72 L480.47,664.57 L483.48,666.44 L486.49,668.34 L489.5,670.26 L492.51,672.22 L495.52,674.2 L498.53,676.2 L501.54,678.23 L504.55,680.28 L507.56,682.36 L510.57,684.46 L513.58,686.58 L516.59,688.73 L519.6,690.9" fill="none" stroke="#222" stroke-width="0.8"/><path d="M374.69,618.87 L376.68,619.32 L378.68,619.78 L380.68,620.26 L382.67,620.76 L384.67,621.28 L386.66,621.82 L388.66,622.37 L390.65,622.94 L392.65,623.53 L394.64,624.13 L396.64,624.75 L398.63,625.39 L400.63,626.04 L402.62,626.71 L404.62,627.4 L406.61,628.1 L408.61,628.82 L410.6,629.56 L412.6,630.31 L414.59,631.08 L416.59,631.86 L418.58,632.66 L420.58,633.47 L422.57,634.3 L424.57,635.15 L426.56,636.01 L428.56,636.88 L430.55,637.77 L432.55,638.68 L434.54,639.6 L436.54,640.53 L438.54,641.48 L440.53,642.44 L442.53,643.42 L444.52,644.41 L446.52,645.42 L448.51,646.44 L450.51,647.47 L452.5,648.52 L454.5,649.58 L456.49,650.65 L458.49,651.74 L460.48,652.84 L462.48,653.95 L464.47,655.08 L466.47,656.22 L468.46,657.37 L470.46,658.53 L472.45,659.71 L474.45,660.9 L476.44,662.1 L478.44,663.32 L480.43,664.54 L482.43,665.78 L484.42,667.03 L486.42,668.29 L488.41,669.57 L490.41,670.85 L492.4,672.15" fill="none" stroke="#7b2a12" stroke-width="2.8" stroke-linecap="butt"/><path d="M342,630.53 L344.52,631.1 L347.04,631.68 L349.56,632.26 L352.08,632.85 L354.61,633.44 L357.13,634.04 L359.65,634.65 L362.17,635.26 L364.69,635.89 L367.21,636.52 L369.73,637.16 L372.25,637.82 L374.77,638.48 L377.29,639.16 L379.82,639.85 L382.34,640.56 L384.86,641.28 L387.38,642.01 L389.9,642.76 L392.42,643.53 L394.94,644.32 L397.46,645.12 L399.98,645.94 L402.5,646.79 L405.03,647.65 L407.55,648.53 L410.07,649.44 L412.59,650.37 L415.11,651.32 L417.63,652.3 L420.15,653.3 L422.67,654.33 L425.19,655.38 L427.71,656.46 L430.24,657.57 L432.76,658.71 L435.28,659.87 L437.8,661.07 L440.32,662.3 L442.84,663.55 L445.36,664.85 L447.88,666.17 L450.4,667.53 L452.92,668.92 L455.45,670.35 L457.97,671.81 L460.49,673.31 L463.01,674.85 L465.53,676.42 L468.05,678.04 L470.57,679.69 L473.09,681.39 L475.61,683.12 L478.13,684.9 L480.66,686.72 L483.18,688.58 L485.7,690.49 L488.22,692.44 L490.74,694.44" fill="none" stroke="#222" stroke-width="0.8"/><path d="M368.64,636.88 L370.39,637.33 L372.13,637.79 L373.88,638.25 L375.62,638.71 L377.37,639.18 L379.12,639.66 L380.86,640.14 L382.61,640.63 L384.35,641.13 L386.1,641.64 L387.84,642.15 L389.59,642.67 L391.34,643.2 L393.08,643.74 L394.83,644.28 L396.57,644.84 L398.32,645.4 L400.07,645.97 L401.81,646.55 L403.56,647.14 L405.3,647.75 L407.05,648.36 L408.8,648.98 L410.54,649.61 L412.29,650.26 L414.03,650.91 L415.78,651.58 L417.53,652.26 L419.27,652.95 L421.02,653.65 L422.76,654.36 L424.51,655.09 L426.25,655.83 L428,656.58 L429.75,657.35 L431.49,658.13 L433.24,658.93 L434.98,659.73 L436.73,660.56 L438.48,661.4 L440.22,662.25 L441.97,663.12 L443.71,664 L445.46,664.9 L447.21,665.81 L448.95,666.74 L450.7,667.69 L452.44,668.65 L454.19,669.63 L455.93,670.63 L457.68,671.64 L459.43,672.67 L461.17,673.72 L462.92,674.79 L464.66,675.88 L466.41,676.98 L468.16,678.11 L469.9,679.25 L471.65,680.41" fill="none" stroke="#7b2a12" stroke-width="2.8" stroke-linecap="butt"/></g>
<rect x="354" y="589.4" width="36" height="9" fill="#fff"/>
<text x="355.8" y="596.0" font-size="7.2" textLength="32.5" lengthAdjust="spacingAndGlyphs" fill="#111" stroke="#111" stroke-width="0.2">UPF 65-120</text>
<rect x="354" y="625.2" width="36" height="8.2" fill="#fff"/>
<text x="355.8" y="632.3" font-size="7.2" textLength="32.5" lengthAdjust="spacingAndGlyphs" fill="#111" stroke="#111" stroke-width="0.2">UPF 65-100</text>
<rect x="357" y="647.5" width="33" height="10" fill="#fff"/>
<text x="358.6" y="655.2" font-size="7.2" textLength="29.9" lengthAdjust="spacingAndGlyphs" fill="#111" stroke="#111" stroke-width="0.2">UPF 65-80</text>
<text x="335" y="697.66" font-size="7.5" text-anchor="end" fill="#111" stroke="#111" stroke-width="0.2">0</text>
<text x="335" y="682.16" font-size="7.5" text-anchor="end" fill="#111" stroke="#111" stroke-width="0.2">2</text>
<text x="335" y="667.16" font-size="7.5" text-anchor="end" fill="#111" stroke="#111" stroke-width="0.2">4</text>
<text x="335" y="652.16" font-size="7.5" text-anchor="end" fill="#111" stroke="#111" stroke-width="0.2">6</text>
<text x="335" y="636.66" font-size="7.5" text-anchor="end" fill="#111" stroke="#111" stroke-width="0.2">8</text>
<text x="335" y="621.16" font-size="7.5" textLength="7.51" lengthAdjust="spacingAndGlyphs" text-anchor="end" fill="#111" stroke="#111" stroke-width="0.2">10</text>
<text x="335" y="606.16" font-size="7.5" textLength="7.51" lengthAdjust="spacingAndGlyphs" text-anchor="end" fill="#111" stroke="#111" stroke-width="0.2">12</text>
<text x="335" y="591.16" font-size="7.5" textLength="7.51" lengthAdjust="spacingAndGlyphs" text-anchor="end" fill="#111" stroke="#111" stroke-width="0.2">14</text>
<text x="342" y="708" font-size="7.5" text-anchor="middle" fill="#111" stroke="#111" stroke-width="0.2">0</text>
<text x="364.2" y="708" font-size="7.5" text-anchor="middle" fill="#111" stroke="#111" stroke-width="0.2">4</text>
<text x="386.4" y="708" font-size="7.5" text-anchor="middle" fill="#111" stroke="#111" stroke-width="0.2">8</text>
<text x="408.6" y="708" font-size="7.5" textLength="7.51" lengthAdjust="spacingAndGlyphs" text-anchor="middle" fill="#111" stroke="#111" stroke-width="0.2">12</text>
<text x="430.8" y="708" font-size="7.5" textLength="7.51" lengthAdjust="spacingAndGlyphs" text-anchor="middle" fill="#111" stroke="#111" stroke-width="0.2">16</text>
<text x="453" y="708" font-size="7.5" textLength="7.51" lengthAdjust="spacingAndGlyphs" text-anchor="middle" fill="#111" stroke="#111" stroke-width="0.2">20</text>
<text x="475.2" y="708" font-size="7.5" textLength="7.51" lengthAdjust="spacingAndGlyphs" text-anchor="middle" fill="#111" stroke="#111" stroke-width="0.2">24</text>
<text x="497.4" y="708" font-size="7.5" textLength="7.51" lengthAdjust="spacingAndGlyphs" text-anchor="middle" fill="#111" stroke="#111" stroke-width="0.2">28</text>
<text x="335.0" y="577.2" font-size="7.4" text-anchor="end" fill="#111" stroke="#111" stroke-width="0.2">H(m)</text>
<text x="506.7" y="708.8" font-size="7.9" fill="#111" stroke="#111" stroke-width="0.2">Q(m³/h)</text>
<line x1="102.9" y1="347.05" x2="252.2" y2="347.05" stroke="#808080" stroke-width="1.2"/>
<line x1="102.9" y1="329" x2="252.2" y2="329" stroke="#808080" stroke-width="1.2"/>
<line x1="102.9" y1="310.95" x2="252.2" y2="310.95" stroke="#808080" stroke-width="1.2"/>
<line x1="102.9" y1="292.9" x2="252.2" y2="292.9" stroke="#808080" stroke-width="1.2"/>
<line x1="102.9" y1="274.85" x2="252.2" y2="274.85" stroke="#808080" stroke-width="1.2"/>
<line x1="102.9" y1="256.8" x2="252.2" y2="256.8" stroke="#808080" stroke-width="1.2"/>
<line x1="102.9" y1="238.75" x2="252.2" y2="238.75" stroke="#808080" stroke-width="1.2"/>
<line x1="125.5" y1="220.7" x2="125.5" y2="369.1" stroke="#808080" stroke-width="1.2"/>
<line x1="143.6" y1="220.7" x2="143.6" y2="369.1" stroke="#808080" stroke-width="1.2"/>
<line x1="161.7" y1="220.7" x2="161.7" y2="369.1" stroke="#808080" stroke-width="1.2"/>
<line x1="179.8" y1="220.7" x2="179.8" y2="369.1" stroke="#808080" stroke-width="1.2"/>
<line x1="197.9" y1="220.7" x2="197.9" y2="369.1" stroke="#808080" stroke-width="1.2"/>
<line x1="216" y1="220.7" x2="216" y2="369.1" stroke="#808080" stroke-width="1.2"/>
<line x1="234.1" y1="220.7" x2="234.1" y2="369.1" stroke="#808080" stroke-width="1.2"/>
<line x1="102.9" y1="220.7" x2="252.2" y2="220.7" stroke="#808080" stroke-width="1.2"/>
<line x1="102.9" y1="365.1" x2="252.2" y2="365.1" stroke="#808080" stroke-width="1.2"/>
<line x1="107.4" y1="220.7" x2="107.4" y2="369.1" stroke="#808080" stroke-width="1.2"/>
<line x1="252.2" y1="220.7" x2="252.2" y2="369.1" stroke="#808080" stroke-width="1.2"/>
<line x1="104.80" y1="356.08" x2="107.40" y2="356.08" stroke="#808080" stroke-width="1"/>
<line x1="104.80" y1="338.03" x2="107.40" y2="338.03" stroke="#808080" stroke-width="1"/>
<line x1="104.80" y1="319.98" x2="107.40" y2="319.98" stroke="#808080" stroke-width="1"/>
<line x1="104.80" y1="301.93" x2="107.40" y2="301.93" stroke="#808080" stroke-width="1"/>
<line x1="104.80" y1="283.88" x2="107.40" y2="283.88" stroke="#808080" stroke-width="1"/>
<line x1="104.80" y1="265.83" x2="107.40" y2="265.83" stroke="#808080" stroke-width="1"/>
<line x1="104.80" y1="247.78" x2="107.40" y2="247.78" stroke="#808080" stroke-width="1"/>
<line x1="104.80" y1="229.73" x2="107.40" y2="229.73" stroke="#808080" stroke-width="1"/>
<line x1="116.45" y1="365.10" x2="116.45" y2="367.60" stroke="#808080" stroke-width="1"/>
<line x1="134.55" y1="365.10" x2="134.55" y2="367.60" stroke="#808080" stroke-width="1"/>
<line x1="152.65" y1="365.10" x2="152.65" y2="367.60" stroke="#808080" stroke-width="1"/>
<line x1="170.75" y1="365.10" x2="170.75" y2="367.60" stroke="#808080" stroke-width="1"/>
<line x1="188.85" y1="365.10" x2="188.85" y2="367.60" stroke="#808080" stroke-width="1"/>
<line x1="206.95" y1="365.10" x2="206.95" y2="367.60" stroke="#808080" stroke-width="1"/>
<line x1="225.05" y1="365.10" x2="225.05" y2="367.60" stroke="#808080" stroke-width="1"/>
<line x1="243.15" y1="365.10" x2="243.15" y2="367.60" stroke="#808080" stroke-width="1"/>
<clipPath id="c3"><rect x="107.4" y="220.7" width="144.8" height="144.4"/></clipPath>
<g clip-path="url(#c3)"><path d="M107.4,365.1 L107.58,365.07 L107.77,364.97 L107.95,364.78 L108.14,364.49 L108.32,364.11 L108.51,363.61 L108.69,363.01 L108.88,362.3 L109.06,361.47 L109.25,360.53 L109.43,359.46 L109.62,358.27 L109.8,356.96 L109.98,355.52 L110.17,353.95 L110.35,352.24 L110.54,350.41 L110.72,348.44 L110.91,346.34 L111.09,344.1 L111.28,341.71 L111.46,339.19 L111.65,336.53 L111.83,333.73 L112.02,330.78 L112.2,327.69 L112.38,324.45 L112.57,321.06 L112.75,317.53 L112.94,313.85 L113.12,310.01 L113.31,306.03 L113.49,301.89 L113.68,297.6 L113.86,293.15 L114.05,288.55 L114.23,283.8 L114.42,278.89 L114.6,273.82 L114.78,268.59 L114.97,263.2 L115.15,257.65 L115.34,251.94 L115.52,246.07 L115.71,240.04 L115.89,233.84 L116.08,227.48 L116.26,220.96 L116.45,214.27" fill="none" stroke="#555" stroke-width="0.9"/><path d="M107.4,365.1 L107.81,365.07 L108.21,364.97 L108.62,364.78 L109.03,364.49 L109.43,364.11 L109.84,363.61 L110.25,363.01 L110.66,362.3 L111.06,361.47 L111.47,360.53 L111.88,359.46 L112.28,358.27 L112.69,356.96 L113.1,355.52 L113.5,353.95 L113.91,352.24 L114.32,350.41 L114.72,348.44 L115.13,346.34 L115.54,344.1 L115.95,341.71 L116.35,339.19 L116.76,336.53 L117.17,333.73 L117.57,330.78 L117.98,327.69 L118.39,324.45 L118.79,321.06 L119.2,317.53 L119.61,313.85 L120.01,310.01 L120.42,306.03 L120.83,301.89 L121.24,297.6 L121.64,293.15 L122.05,288.55 L122.46,283.8 L122.86,278.89 L123.27,273.82 L123.68,268.59 L124.08,263.2 L124.49,257.65 L124.9,251.94 L125.3,246.07 L125.71,240.04 L126.12,233.84 L126.53,227.48 L126.93,220.96 L127.34,214.27" fill="none" stroke="#555" stroke-width="0.9"/><path d="M107.4,365.1 L108.09,365.07 L108.78,364.97 L109.47,364.78 L110.16,364.49 L110.85,364.11 L111.54,363.61 L112.23,363.01 L112.92,362.3 L113.61,361.47 L114.3,360.53 L114.98,359.46 L115.67,358.27 L116.36,356.96 L117.05,355.52 L117.74,353.95 L118.43,352.24 L119.12,350.41 L119.81,348.44 L120.5,346.34 L121.19,344.1 L121.88,341.71 L122.57,339.19 L123.26,336.53 L123.95,333.73 L124.64,330.78 L125.33,327.69 L126.02,324.45 L126.71,321.06 L127.4,317.53 L128.09,313.85 L128.77,310.01 L129.46,306.03 L130.15,301.89 L130.84,297.6 L131.53,293.15 L132.22,288.55 L132.91,283.8 L133.6,278.89 L134.29,273.82 L134.98,268.59 L135.67,263.2 L136.36,257.65 L137.05,251.94 L137.74,246.07 L138.43,240.04 L139.12,233.84 L139.81,227.48 L140.5,220.96 L141.19,214.27" fill="none" stroke="#555" stroke-width="0.9"/><path d="M107.4,365.1 L108.44,365.07 L109.49,364.97 L110.53,364.78 L111.57,364.49 L112.62,364.11 L113.66,363.61 L114.71,363.01 L115.75,362.3 L116.79,361.47 L117.84,360.53 L118.88,359.46 L119.92,358.27 L120.97,356.96 L122.01,355.52 L123.06,353.95 L124.1,352.24 L125.14,350.41 L126.19,348.44 L127.23,346.34 L128.27,344.1 L129.32,341.71 L130.36,339.19 L131.4,336.53 L132.45,333.73 L133.49,330.78 L134.54,327.69 L135.58,324.45 L136.62,321.06 L137.67,317.53 L138.71,313.85 L139.75,310.01 L140.8,306.03 L141.84,301.89 L142.88,297.6 L143.93,293.15 L144.97,288.55 L146.02,283.8 L147.06,278.89 L148.1,273.82 L149.15,268.59 L150.19,263.2 L151.23,257.65 L152.28,251.94 L153.32,246.07 L154.37,240.04 L155.41,233.84 L156.45,227.48 L157.5,220.96 L158.54,214.27" fill="none" stroke="#555" stroke-width="0.9"/><path d="M107.4,365.1 L108.81,365.07 L110.22,364.97 L111.63,364.78 L113.04,364.49 L114.45,364.11 L115.85,363.61 L117.26,363.01 L118.67,362.3 L120.08,361.47 L121.49,360.53 L122.9,359.46 L124.31,358.27 L125.72,356.96 L127.13,355.52 L128.54,353.95 L129.95,352.24 L131.36,350.41 L132.76,348.44 L134.17,346.34 L135.58,344.1 L136.99,341.71 L138.4,339.19 L139.81,336.53 L141.22,333.73 L142.63,330.78 L144.04,327.69 L145.45,324.45 L146.86,321.06 L148.26,317.53 L149.67,313.85 L151.08,310.01 L152.49,306.03 L153.9,301.89 L155.31,297.6 L156.72,293.15 L158.13,288.55 L159.54,283.8 L160.95,278.89 L162.36,273.82 L163.77,268.59 L165.17,263.2 L166.58,257.65 L167.99,251.94 L169.4,246.07 L170.81,240.04 L172.22,233.84 L173.63,227.48 L175.04,220.96 L176.45,214.27" fill="none" stroke="#555" stroke-width="0.9"/><path d="M107.4,365.1 L109.32,365.07 L111.24,364.97 L113.15,364.78 L115.07,364.49 L116.99,364.11 L118.91,363.61 L120.82,363.01 L122.74,362.3 L124.66,361.47 L126.58,360.53 L128.5,359.46 L130.41,358.27 L132.33,356.96 L134.25,355.52 L136.17,353.95 L138.08,352.24 L140,350.41 L141.92,348.44 L143.84,346.34 L145.76,344.1 L147.67,341.71 L149.59,339.19 L151.51,336.53 L153.43,333.73 L155.34,330.78 L157.26,327.69 L159.18,324.45 L161.1,321.06 L163.02,317.53 L164.93,313.85 L166.85,310.01 L168.77,306.03 L170.69,301.89 L172.61,297.6 L174.52,293.15 L176.44,288.55 L178.36,283.8 L180.28,278.89 L182.19,273.82 L184.11,268.59 L186.03,263.2 L187.95,257.65 L189.87,251.94 L191.78,246.07 L193.7,240.04 L195.62,233.84 L197.54,227.48 L199.45,220.96 L201.37,214.27" fill="none" stroke="#555" stroke-width="0.9"/><path d="M107.4,365.1 L109.82,365.07 L112.25,364.97 L114.67,364.78 L117.09,364.49 L119.51,364.11 L121.94,363.61 L124.36,363.01 L126.78,362.3 L129.2,361.47 L131.63,360.53 L134.05,359.46 L136.47,358.27 L138.89,356.96 L141.32,355.52 L143.74,353.95 L146.16,352.24 L148.59,350.41 L151.01,348.44 L153.43,346.34 L155.85,344.1 L158.28,341.71 L160.7,339.19 L163.12,336.53 L165.54,333.73 L167.97,330.78 L170.39,327.69 L172.81,324.45 L175.23,321.06 L177.66,317.53 L180.08,313.85 L182.5,310.01 L184.93,306.03 L187.35,301.89 L189.77,297.6 L192.19,293.15 L194.62,288.55 L197.04,283.8 L199.46,278.89 L201.88,273.82 L204.31,268.59 L206.73,263.2 L209.15,257.65 L211.57,251.94 L214,246.07 L216.42,240.04 L218.84,233.84 L221.27,227.48 L223.69,220.96 L226.11,214.27" fill="none" stroke="#555" stroke-width="0.9"/><path d="M107.4,365.1 L110.41,365.07 L113.43,364.97 L116.44,364.79 L119.46,364.51 L122.47,364.13 L125.49,363.65 L128.5,363.07 L131.51,362.38 L134.53,361.57 L137.54,360.65 L140.56,359.61 L143.57,358.46 L146.58,357.18 L149.6,355.77 L152.61,354.25 L155.63,352.59 L158.64,350.81 L161.66,348.89 L164.67,346.84 L167.68,344.66 L170.7,342.35 L173.71,339.89 L176.73,337.3 L179.74,334.58 L182.76,331.71 L185.77,328.7 L188.78,325.55 L191.8,322.25 L194.81,318.81 L197.83,315.23 L200.84,311.5 L203.85,307.62 L206.87,303.59 L209.88,299.42 L212.9,295.09 L215.91,290.62 L218.93,285.99 L221.94,281.21 L224.95,276.28 L227.97,271.19 L230.98,265.95 L234,260.55 L237.01,254.99 L240.02,249.28 L243.04,243.41 L246.05,237.38 L249.07,231.19 L252.08,224.85 L255.1,218.34" fill="none" stroke="#555" stroke-width="0.9"/><path d="M107.4,365.1 L110.41,365.09 L113.43,365.04 L116.44,364.96 L119.46,364.84 L122.47,364.67 L125.49,364.45 L128.5,364.19 L131.51,363.88 L134.53,363.52 L137.54,363.11 L140.56,362.65 L143.57,362.13 L146.58,361.56 L149.6,360.93 L152.61,360.25 L155.63,359.51 L158.64,358.71 L161.66,357.85 L164.67,356.94 L167.68,355.96 L170.7,354.93 L173.71,353.83 L176.73,352.68 L179.74,351.46 L182.76,350.17 L185.77,348.83 L188.78,347.42 L191.8,345.95 L194.81,344.41 L197.83,342.81 L200.84,341.14 L203.85,339.41 L206.87,337.61 L209.88,335.74 L212.9,333.81 L215.91,331.81 L218.93,329.74 L221.94,327.6 L224.95,325.4 L227.97,323.12 L230.98,320.78 L234,318.37 L237.01,315.88 L240.02,313.33 L243.04,310.71 L246.05,308.01 L249.07,305.25 L252.08,302.41 L255.1,299.5" fill="none" stroke="#555" stroke-width="0.9"/></g>
<g clip-path="url(#c3)"><path d="M107.4,238.81 L109.54,239.79 L111.68,240.7 L113.82,241.55 L115.97,242.34 L118.11,243.08 L120.25,243.8 L122.39,244.48 L124.53,245.16 L126.67,245.82 L128.81,246.48 L130.95,247.15 L133.1,247.84 L135.24,248.55 L137.38,249.28 L139.52,250.06 L141.66,250.87 L143.8,251.74 L145.94,252.66 L148.09,253.63 L150.23,254.67 L152.37,255.79 L154.51,256.97 L156.65,258.23 L158.79,259.58 L160.93,261.01 L163.07,262.52 L165.22,264.13 L167.36,265.83 L169.5,267.63 L171.64,269.53 L173.78,271.52 L175.92,273.62 L178.06,275.82 L180.2,278.12 L182.35,280.52 L184.49,283.03 L186.63,285.64 L188.77,288.35 L190.91,291.17 L193.05,294.08 L195.19,297.1 L197.34,300.21 L199.48,303.42 L201.62,306.72 L203.76,310.11 L205.9,313.59 L208.04,317.16 L210.18,320.8 L212.32,324.52 L214.47,328.32 L216.61,332.18 L218.75,336.11 L220.89,340.09 L223.03,344.13 L225.17,348.22 L227.31,352.34 L229.46,356.5 L231.6,360.69 L233.74,364.9" fill="none" stroke="#222" stroke-width="0.8"/><path d="M138.17,249.56 L139.55,250.07 L140.93,250.59 L142.31,251.13 L143.69,251.69 L145.07,252.27 L146.45,252.88 L147.83,253.51 L149.21,254.17 L150.59,254.86 L151.98,255.58 L153.36,256.32 L154.74,257.1 L156.12,257.91 L157.5,258.75 L158.88,259.63 L160.26,260.55 L161.64,261.5 L163.02,262.48 L164.4,263.51 L165.78,264.57 L167.16,265.67 L168.54,266.81 L169.92,268 L171.3,269.22 L172.68,270.49 L174.06,271.79 L175.44,273.14 L176.82,274.53 L178.2,275.96 L179.59,277.44 L180.97,278.96 L182.35,280.52 L183.73,282.13 L185.11,283.77 L186.49,285.46 L187.87,287.2 L189.25,288.97 L190.63,290.79 L192.01,292.65 L193.39,294.55 L194.77,296.49 L196.15,298.48 L197.53,300.5 L198.91,302.56 L200.29,304.67 L201.67,306.81 L203.05,308.99 L204.43,311.2 L205.81,313.45 L207.2,315.74 L208.58,318.06 L209.96,320.41 L211.34,322.8 L212.72,325.21 L214.1,327.66 L215.48,330.14 L216.86,332.64 L218.24,335.17 L219.62,337.72" fill="none" stroke="#7b2a12" stroke-width="2.8" stroke-linecap="butt"/><path d="M107.4,291.01 L109.04,291.56 L110.67,292.12 L112.31,292.7 L113.94,293.28 L115.58,293.89 L117.21,294.5 L118.85,295.13 L120.48,295.78 L122.12,296.45 L123.75,297.13 L125.39,297.83 L127.02,298.55 L128.66,299.29 L130.29,300.05 L131.93,300.83 L133.56,301.63 L135.2,302.46 L136.83,303.3 L138.47,304.17 L140.1,305.06 L141.74,305.98 L143.37,306.92 L145.01,307.89 L146.64,308.88 L148.28,309.9 L149.91,310.95 L151.55,312.03 L153.18,313.13 L154.82,314.27 L156.45,315.43 L158.09,316.63 L159.72,317.85 L161.36,319.11 L162.99,320.4 L164.63,321.72 L166.26,323.08 L167.9,324.47 L169.54,325.9 L171.17,327.36 L172.81,328.86 L174.44,330.39 L176.08,331.96 L177.71,333.57 L179.35,335.22 L180.98,336.91 L182.62,338.64 L184.25,340.4 L185.89,342.21 L187.52,344.06 L189.16,345.96 L190.79,347.89 L192.43,349.87 L194.06,351.9 L195.7,353.97 L197.33,356.08 L198.97,358.24 L200.6,360.45 L202.24,362.7 L203.87,365.01" fill="none" stroke="#222" stroke-width="0.8"/><path d="M130.3,300.05 L131.18,300.47 L132.05,300.89 L132.93,301.32 L133.81,301.76 L134.69,302.2 L135.57,302.65 L136.45,303.1 L137.33,303.56 L138.21,304.03 L139.09,304.5 L139.96,304.99 L140.84,305.48 L141.72,305.97 L142.6,306.47 L143.48,306.98 L144.36,307.5 L145.24,308.03 L146.12,308.56 L147,309.1 L147.87,309.65 L148.75,310.21 L149.63,310.77 L150.51,311.34 L151.39,311.92 L152.27,312.51 L153.15,313.11 L154.03,313.71 L154.91,314.33 L155.79,314.95 L156.66,315.58 L157.54,316.22 L158.42,316.87 L159.3,317.53 L160.18,318.2 L161.06,318.88 L161.94,319.56 L162.82,320.26 L163.7,320.96 L164.57,321.68 L165.45,322.4 L166.33,323.14 L167.21,323.88 L168.09,324.63 L168.97,325.4 L169.85,326.17 L170.73,326.96 L171.61,327.75 L172.48,328.56 L173.36,329.37 L174.24,330.2 L175.12,331.04 L176,331.89 L176.88,332.75 L177.76,333.62 L178.64,334.5 L179.52,335.39 L180.4,336.3 L181.27,337.21 L182.15,338.14" fill="none" stroke="#7b2a12" stroke-width="2.8" stroke-linecap="butt"/></g>
<rect x="182.5" y="247.5" width="50.8" height="18.3" fill="#fff"/>
<text x="187.5" y="261.0" font-size="9.6" textLength="37.5" lengthAdjust="spacingAndGlyphs" fill="#333" stroke="#333" stroke-width="0.1">UPR 20-35</text>
<rect x="118.6" y="333.6" width="50.6" height="18.2" fill="#fff"/>
<text x="123.0" y="346.7" font-size="9.4" textLength="37" lengthAdjust="spacingAndGlyphs" fill="#333" stroke="#333" stroke-width="0.1">UPR 20-16</text>
<text x="101.4" y="368.01" font-size="8.2" text-anchor="end" fill="#4a4a4a" stroke="#4a4a4a" stroke-width="0.1">0</text>
<text x="101.4" y="349.96" font-size="8.2" text-anchor="end" fill="#4a4a4a" stroke="#4a4a4a" stroke-width="0.1">5</text>
<text x="101.4" y="331.91" font-size="8.2" textLength="8.84" lengthAdjust="spacingAndGlyphs" text-anchor="end" fill="#4a4a4a" stroke="#4a4a4a" stroke-width="0.1">10</text>
<text x="101.4" y="313.86" font-size="8.2" textLength="8.84" lengthAdjust="spacingAndGlyphs" text-anchor="end" fill="#4a4a4a" stroke="#4a4a4a" stroke-width="0.1">15</text>
<text x="101.4" y="295.81" font-size="8.2" textLength="8.84" lengthAdjust="spacingAndGlyphs" text-anchor="end" fill="#4a4a4a" stroke="#4a4a4a" stroke-width="0.1">20</text>
<text x="101.4" y="277.76" font-size="8.2" textLength="8.84" lengthAdjust="spacingAndGlyphs" text-anchor="end" fill="#4a4a4a" stroke="#4a4a4a" stroke-width="0.1">25</text>
<text x="101.4" y="259.71" font-size="8.2" textLength="8.84" lengthAdjust="spacingAndGlyphs" text-anchor="end" fill="#4a4a4a" stroke="#4a4a4a" stroke-width="0.1">30</text>
<text x="101.4" y="241.66" font-size="8.2" textLength="8.84" lengthAdjust="spacingAndGlyphs" text-anchor="end" fill="#4a4a4a" stroke="#4a4a4a" stroke-width="0.1">35</text>
<text x="101.4" y="223.61" font-size="8.2" textLength="8.84" lengthAdjust="spacingAndGlyphs" text-anchor="end" fill="#4a4a4a" stroke="#4a4a4a" stroke-width="0.1">40</text>
<text x="107.4" y="379.1" font-size="8.2" text-anchor="middle" fill="#4a4a4a" stroke="#4a4a4a" stroke-width="0.1">0</text>
<text x="125.5" y="379.1" font-size="8.2" text-anchor="middle" fill="#4a4a4a" stroke="#4a4a4a" stroke-width="0.1">1</text>
<text x="143.6" y="379.1" font-size="8.2" text-anchor="middle" fill="#4a4a4a" stroke="#4a4a4a" stroke-width="0.1">2</text>
<text x="161.7" y="379.1" font-size="8.2" text-anchor="middle" fill="#4a4a4a" stroke="#4a4a4a" stroke-width="0.1">3</text>
<text x="179.8" y="379.1" font-size="8.2" text-anchor="middle" fill="#4a4a4a" stroke="#4a4a4a" stroke-width="0.1">4</text>
<text x="197.9" y="379.1" font-size="8.2" text-anchor="middle" fill="#4a4a4a" stroke="#4a4a4a" stroke-width="0.1">5</text>
<text x="216" y="379.1" font-size="8.2" text-anchor="middle" fill="#4a4a4a" stroke="#4a4a4a" stroke-width="0.1">6</text>
<text x="226.0" y="379.5" font-size="8.2" fill="#4a4a4a" stroke="#4a4a4a" stroke-width="0.1">Q(m³/h)</text>
</svg></body></html>
